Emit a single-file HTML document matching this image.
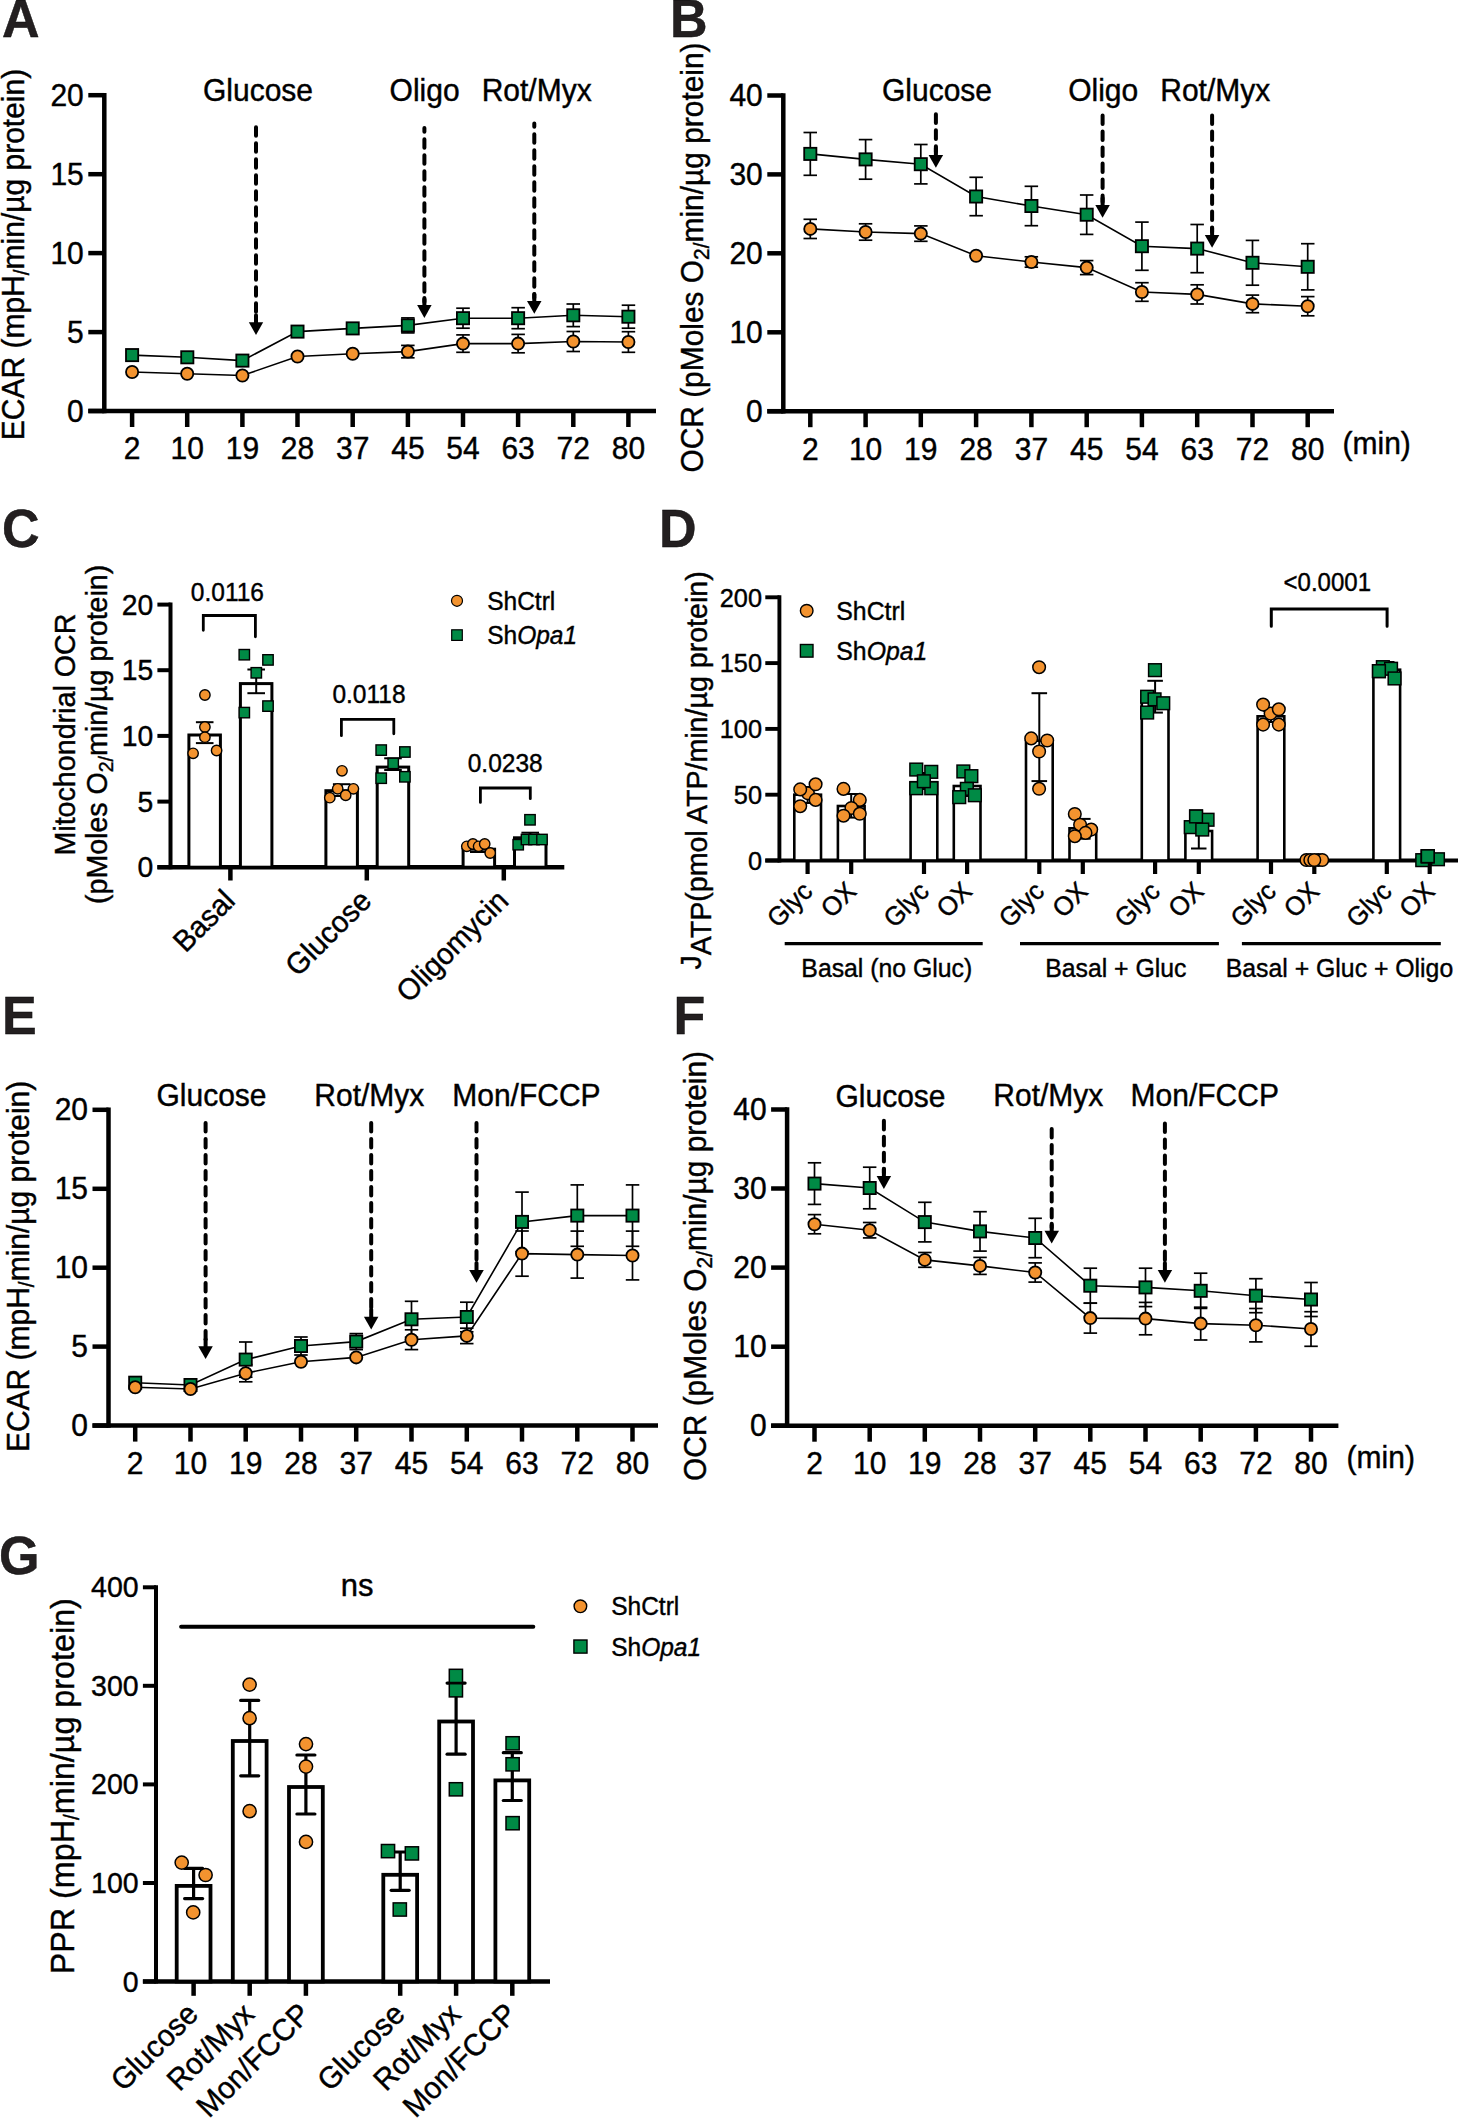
<!DOCTYPE html>
<html><head><meta charset="utf-8"><style>
html,body{margin:0;padding:0;background:#fff;}
svg{display:block;font-family:"Liberation Sans",sans-serif;}
text{stroke:#000;stroke-width:0.4px;}
</style></head><body>
<svg width="1460" height="2118" viewBox="0 0 1460 2118">
<rect width="1460" height="2118" fill="#fff"/>
<g>
<line x1="104.3" y1="93" x2="104.3" y2="413.2" stroke="#000" stroke-width="4.5" stroke-linecap="butt"/>
<line x1="88.3" y1="411" x2="656" y2="411" stroke="#000" stroke-width="4.5" stroke-linecap="butt"/>
<line x1="88.3" y1="411" x2="104.3" y2="411" stroke="#000" stroke-width="4.5" stroke-linecap="butt"/>
<text x="83.8" y="421.6" font-size="30" text-anchor="end" transform="translate(0 421.6) scale(1 1.04) translate(0 -421.6)">0</text>
<line x1="88.3" y1="332.1" x2="104.3" y2="332.1" stroke="#000" stroke-width="4.5" stroke-linecap="butt"/>
<text x="83.8" y="342.7" font-size="30" text-anchor="end" transform="translate(0 342.7) scale(1 1.04) translate(0 -342.7)">5</text>
<line x1="88.3" y1="253.1" x2="104.3" y2="253.1" stroke="#000" stroke-width="4.5" stroke-linecap="butt"/>
<text x="83.8" y="263.7" font-size="30" text-anchor="end" transform="translate(0 263.7) scale(1 1.04) translate(0 -263.7)">10</text>
<line x1="88.3" y1="174.2" x2="104.3" y2="174.2" stroke="#000" stroke-width="4.5" stroke-linecap="butt"/>
<text x="83.8" y="184.8" font-size="30" text-anchor="end" transform="translate(0 184.8) scale(1 1.04) translate(0 -184.8)">15</text>
<line x1="88.3" y1="95.2" x2="104.3" y2="95.2" stroke="#000" stroke-width="4.5" stroke-linecap="butt"/>
<text x="83.8" y="105.8" font-size="30" text-anchor="end" transform="translate(0 105.8) scale(1 1.04) translate(0 -105.8)">20</text>
<line x1="132.1" y1="411" x2="132.1" y2="427" stroke="#000" stroke-width="4.5" stroke-linecap="butt"/>
<text x="132.1" y="459.5" font-size="30" text-anchor="middle" transform="translate(0 459.5) scale(1 1.04) translate(0 -459.5)">2</text>
<line x1="187.2" y1="411" x2="187.2" y2="427" stroke="#000" stroke-width="4.5" stroke-linecap="butt"/>
<text x="187.2" y="459.5" font-size="30" text-anchor="middle" transform="translate(0 459.5) scale(1 1.04) translate(0 -459.5)">10</text>
<line x1="242.4" y1="411" x2="242.4" y2="427" stroke="#000" stroke-width="4.5" stroke-linecap="butt"/>
<text x="242.4" y="459.5" font-size="30" text-anchor="middle" transform="translate(0 459.5) scale(1 1.04) translate(0 -459.5)">19</text>
<line x1="297.5" y1="411" x2="297.5" y2="427" stroke="#000" stroke-width="4.5" stroke-linecap="butt"/>
<text x="297.5" y="459.5" font-size="30" text-anchor="middle" transform="translate(0 459.5) scale(1 1.04) translate(0 -459.5)">28</text>
<line x1="352.7" y1="411" x2="352.7" y2="427" stroke="#000" stroke-width="4.5" stroke-linecap="butt"/>
<text x="352.7" y="459.5" font-size="30" text-anchor="middle" transform="translate(0 459.5) scale(1 1.04) translate(0 -459.5)">37</text>
<line x1="407.9" y1="411" x2="407.9" y2="427" stroke="#000" stroke-width="4.5" stroke-linecap="butt"/>
<text x="407.9" y="459.5" font-size="30" text-anchor="middle" transform="translate(0 459.5) scale(1 1.04) translate(0 -459.5)">45</text>
<line x1="463" y1="411" x2="463" y2="427" stroke="#000" stroke-width="4.5" stroke-linecap="butt"/>
<text x="463" y="459.5" font-size="30" text-anchor="middle" transform="translate(0 459.5) scale(1 1.04) translate(0 -459.5)">54</text>
<line x1="518.1" y1="411" x2="518.1" y2="427" stroke="#000" stroke-width="4.5" stroke-linecap="butt"/>
<text x="518.1" y="459.5" font-size="30" text-anchor="middle" transform="translate(0 459.5) scale(1 1.04) translate(0 -459.5)">63</text>
<line x1="573.3" y1="411" x2="573.3" y2="427" stroke="#000" stroke-width="4.5" stroke-linecap="butt"/>
<text x="573.3" y="459.5" font-size="30" text-anchor="middle" transform="translate(0 459.5) scale(1 1.04) translate(0 -459.5)">72</text>
<line x1="628.4" y1="411" x2="628.4" y2="427" stroke="#000" stroke-width="4.5" stroke-linecap="butt"/>
<text x="628.4" y="459.5" font-size="30" text-anchor="middle" transform="translate(0 459.5) scale(1 1.04) translate(0 -459.5)">80</text>
<text x="203" y="101.4" font-size="30" transform="translate(0 101.4) scale(1 1.04) translate(0 -101.4)">Glucose</text>
<line x1="256" y1="127.2" x2="256" y2="319.3" stroke="#000" stroke-width="4" stroke-linecap="round" stroke-dasharray="8.6 7.4" stroke-dashoffset="0"/>
<line x1="256" y1="315.3" x2="256" y2="323.3" stroke="#000" stroke-width="4" stroke-linecap="round"/>
<polygon points="248.8,322.3 263.2,322.3 256,335.1" fill="#000" stroke="none"/>
<text x="389.6" y="101.4" font-size="30" transform="translate(0 101.4) scale(1 1.04) translate(0 -101.4)">Oligo</text>
<line x1="424.4" y1="128" x2="424.4" y2="302.1" stroke="#000" stroke-width="4" stroke-linecap="round" stroke-dasharray="8.6 7.4" stroke-dashoffset="4.8"/>
<line x1="424.4" y1="298.1" x2="424.4" y2="306.1" stroke="#000" stroke-width="4" stroke-linecap="round"/>
<polygon points="417.1,305.1 431.6,305.1 424.4,317.9" fill="#000" stroke="none"/>
<text x="481.7" y="101.4" font-size="30" transform="translate(0 101.4) scale(1 1.04) translate(0 -101.4)">Rot/Myx</text>
<line x1="534.3" y1="123.4" x2="534.3" y2="297.9" stroke="#000" stroke-width="4" stroke-linecap="round" stroke-dasharray="8.6 7.4" stroke-dashoffset="5.2"/>
<line x1="534.3" y1="293.9" x2="534.3" y2="301.9" stroke="#000" stroke-width="4" stroke-linecap="round"/>
<polygon points="527,300.9 541.5,300.9 534.3,313.7" fill="#000" stroke="none"/>
<polyline points="132.1,355.1 187.2,357.3 242.4,360.6 297.5,331.6 352.7,328.4 407.9,325.4 463,318.2 518.1,318.2 573.3,315.3 628.4,316.7" fill="none" stroke="#000" stroke-width="1.6" stroke-linejoin="miter"/>
<polyline points="132.1,372 187.2,373.7 242.4,375.5 297.5,356.5 352.7,353.8 407.9,351.6 463,343.6 518.1,343.6 573.3,341.5 628.4,342" fill="none" stroke="#000" stroke-width="1.6" stroke-linejoin="miter"/>
<line x1="407.9" y1="317.9" x2="407.9" y2="332.9" stroke="#000" stroke-width="1.7" stroke-linecap="butt"/>
<line x1="401.1" y1="317.9" x2="414.6" y2="317.9" stroke="#000" stroke-width="1.7" stroke-linecap="butt"/>
<line x1="401.1" y1="332.9" x2="414.6" y2="332.9" stroke="#000" stroke-width="1.7" stroke-linecap="butt"/>
<line x1="463" y1="308.2" x2="463" y2="328.2" stroke="#000" stroke-width="1.7" stroke-linecap="butt"/>
<line x1="456.2" y1="308.2" x2="469.8" y2="308.2" stroke="#000" stroke-width="1.7" stroke-linecap="butt"/>
<line x1="456.2" y1="328.2" x2="469.8" y2="328.2" stroke="#000" stroke-width="1.7" stroke-linecap="butt"/>
<line x1="518.1" y1="307.7" x2="518.1" y2="328.7" stroke="#000" stroke-width="1.7" stroke-linecap="butt"/>
<line x1="511.4" y1="307.7" x2="524.9" y2="307.7" stroke="#000" stroke-width="1.7" stroke-linecap="butt"/>
<line x1="511.4" y1="328.7" x2="524.9" y2="328.7" stroke="#000" stroke-width="1.7" stroke-linecap="butt"/>
<line x1="573.3" y1="304" x2="573.3" y2="326.6" stroke="#000" stroke-width="1.7" stroke-linecap="butt"/>
<line x1="566.5" y1="304" x2="580" y2="304" stroke="#000" stroke-width="1.7" stroke-linecap="butt"/>
<line x1="566.5" y1="326.6" x2="580" y2="326.6" stroke="#000" stroke-width="1.7" stroke-linecap="butt"/>
<line x1="628.4" y1="305.2" x2="628.4" y2="328.2" stroke="#000" stroke-width="1.7" stroke-linecap="butt"/>
<line x1="621.7" y1="305.2" x2="635.2" y2="305.2" stroke="#000" stroke-width="1.7" stroke-linecap="butt"/>
<line x1="621.7" y1="328.2" x2="635.2" y2="328.2" stroke="#000" stroke-width="1.7" stroke-linecap="butt"/>
<line x1="407.9" y1="345.4" x2="407.9" y2="357.8" stroke="#000" stroke-width="1.7" stroke-linecap="butt"/>
<line x1="401.1" y1="345.4" x2="414.6" y2="345.4" stroke="#000" stroke-width="1.7" stroke-linecap="butt"/>
<line x1="401.1" y1="357.8" x2="414.6" y2="357.8" stroke="#000" stroke-width="1.7" stroke-linecap="butt"/>
<line x1="463" y1="334.9" x2="463" y2="352.3" stroke="#000" stroke-width="1.7" stroke-linecap="butt"/>
<line x1="456.2" y1="334.9" x2="469.8" y2="334.9" stroke="#000" stroke-width="1.7" stroke-linecap="butt"/>
<line x1="456.2" y1="352.3" x2="469.8" y2="352.3" stroke="#000" stroke-width="1.7" stroke-linecap="butt"/>
<line x1="518.1" y1="334.4" x2="518.1" y2="352.8" stroke="#000" stroke-width="1.7" stroke-linecap="butt"/>
<line x1="511.4" y1="334.4" x2="524.9" y2="334.4" stroke="#000" stroke-width="1.7" stroke-linecap="butt"/>
<line x1="511.4" y1="352.8" x2="524.9" y2="352.8" stroke="#000" stroke-width="1.7" stroke-linecap="butt"/>
<line x1="573.3" y1="331.5" x2="573.3" y2="351.5" stroke="#000" stroke-width="1.7" stroke-linecap="butt"/>
<line x1="566.5" y1="331.5" x2="580" y2="331.5" stroke="#000" stroke-width="1.7" stroke-linecap="butt"/>
<line x1="566.5" y1="351.5" x2="580" y2="351.5" stroke="#000" stroke-width="1.7" stroke-linecap="butt"/>
<line x1="628.4" y1="331.7" x2="628.4" y2="352.3" stroke="#000" stroke-width="1.7" stroke-linecap="butt"/>
<line x1="621.7" y1="331.7" x2="635.2" y2="331.7" stroke="#000" stroke-width="1.7" stroke-linecap="butt"/>
<line x1="621.7" y1="352.3" x2="635.2" y2="352.3" stroke="#000" stroke-width="1.7" stroke-linecap="butt"/>
<rect x="126" y="349" width="12.2" height="12.2" fill="#008a45" stroke="#000" stroke-width="1.8"/>
<rect x="181.2" y="351.2" width="12.2" height="12.2" fill="#008a45" stroke="#000" stroke-width="1.8"/>
<rect x="236.3" y="354.5" width="12.2" height="12.2" fill="#008a45" stroke="#000" stroke-width="1.8"/>
<rect x="291.4" y="325.5" width="12.2" height="12.2" fill="#008a45" stroke="#000" stroke-width="1.8"/>
<rect x="346.6" y="322.3" width="12.2" height="12.2" fill="#008a45" stroke="#000" stroke-width="1.8"/>
<rect x="401.8" y="319.3" width="12.2" height="12.2" fill="#008a45" stroke="#000" stroke-width="1.8"/>
<rect x="456.9" y="312.1" width="12.2" height="12.2" fill="#008a45" stroke="#000" stroke-width="1.8"/>
<rect x="512" y="312.1" width="12.2" height="12.2" fill="#008a45" stroke="#000" stroke-width="1.8"/>
<rect x="567.2" y="309.2" width="12.2" height="12.2" fill="#008a45" stroke="#000" stroke-width="1.8"/>
<rect x="622.3" y="310.6" width="12.2" height="12.2" fill="#008a45" stroke="#000" stroke-width="1.8"/>
<circle cx="132.1" cy="372" r="6.1" fill="#f3932f" stroke="#000" stroke-width="1.8"/>
<circle cx="187.2" cy="373.7" r="6.1" fill="#f3932f" stroke="#000" stroke-width="1.8"/>
<circle cx="242.4" cy="375.5" r="6.1" fill="#f3932f" stroke="#000" stroke-width="1.8"/>
<circle cx="297.5" cy="356.5" r="6.1" fill="#f3932f" stroke="#000" stroke-width="1.8"/>
<circle cx="352.7" cy="353.8" r="6.1" fill="#f3932f" stroke="#000" stroke-width="1.8"/>
<circle cx="407.9" cy="351.6" r="6.1" fill="#f3932f" stroke="#000" stroke-width="1.8"/>
<circle cx="463" cy="343.6" r="6.1" fill="#f3932f" stroke="#000" stroke-width="1.8"/>
<circle cx="518.1" cy="343.6" r="6.1" fill="#f3932f" stroke="#000" stroke-width="1.8"/>
<circle cx="573.3" cy="341.5" r="6.1" fill="#f3932f" stroke="#000" stroke-width="1.8"/>
<circle cx="628.4" cy="342" r="6.1" fill="#f3932f" stroke="#000" stroke-width="1.8"/>
<text x="24.3" y="254.5" font-size="30" text-anchor="middle" transform="rotate(-90 24.3 254.5) translate(24.3 254.5) scale(1 1.04) translate(-24.3 -254.5)">ECAR (mpH<tspan font-size="21" dy="5">/</tspan><tspan dy="-5">min/µg protein)</tspan></text>
<line x1="783.3" y1="93.2" x2="783.3" y2="413.4" stroke="#000" stroke-width="4.5" stroke-linecap="butt"/>
<line x1="767.3" y1="411.2" x2="1334" y2="411.2" stroke="#000" stroke-width="4.5" stroke-linecap="butt"/>
<line x1="767.3" y1="411.2" x2="783.3" y2="411.2" stroke="#000" stroke-width="4.5" stroke-linecap="butt"/>
<text x="762.8" y="421.8" font-size="30" text-anchor="end" transform="translate(0 421.8) scale(1 1.04) translate(0 -421.8)">0</text>
<line x1="767.3" y1="332.3" x2="783.3" y2="332.3" stroke="#000" stroke-width="4.5" stroke-linecap="butt"/>
<text x="762.8" y="342.9" font-size="30" text-anchor="end" transform="translate(0 342.9) scale(1 1.04) translate(0 -342.9)">10</text>
<line x1="767.3" y1="253.3" x2="783.3" y2="253.3" stroke="#000" stroke-width="4.5" stroke-linecap="butt"/>
<text x="762.8" y="263.9" font-size="30" text-anchor="end" transform="translate(0 263.9) scale(1 1.04) translate(0 -263.9)">20</text>
<line x1="767.3" y1="174.4" x2="783.3" y2="174.4" stroke="#000" stroke-width="4.5" stroke-linecap="butt"/>
<text x="762.8" y="185" font-size="30" text-anchor="end" transform="translate(0 185) scale(1 1.04) translate(0 -185)">30</text>
<line x1="767.3" y1="95.5" x2="783.3" y2="95.5" stroke="#000" stroke-width="4.5" stroke-linecap="butt"/>
<text x="762.8" y="106.1" font-size="30" text-anchor="end" transform="translate(0 106.1) scale(1 1.04) translate(0 -106.1)">40</text>
<line x1="810.3" y1="411.2" x2="810.3" y2="427.2" stroke="#000" stroke-width="4.5" stroke-linecap="butt"/>
<text x="810.3" y="459.7" font-size="30" text-anchor="middle" transform="translate(0 459.7) scale(1 1.04) translate(0 -459.7)">2</text>
<line x1="865.6" y1="411.2" x2="865.6" y2="427.2" stroke="#000" stroke-width="4.5" stroke-linecap="butt"/>
<text x="865.6" y="459.7" font-size="30" text-anchor="middle" transform="translate(0 459.7) scale(1 1.04) translate(0 -459.7)">10</text>
<line x1="920.8" y1="411.2" x2="920.8" y2="427.2" stroke="#000" stroke-width="4.5" stroke-linecap="butt"/>
<text x="920.8" y="459.7" font-size="30" text-anchor="middle" transform="translate(0 459.7) scale(1 1.04) translate(0 -459.7)">19</text>
<line x1="976.1" y1="411.2" x2="976.1" y2="427.2" stroke="#000" stroke-width="4.5" stroke-linecap="butt"/>
<text x="976.1" y="459.7" font-size="30" text-anchor="middle" transform="translate(0 459.7) scale(1 1.04) translate(0 -459.7)">28</text>
<line x1="1031.4" y1="411.2" x2="1031.4" y2="427.2" stroke="#000" stroke-width="4.5" stroke-linecap="butt"/>
<text x="1031.4" y="459.7" font-size="30" text-anchor="middle" transform="translate(0 459.7) scale(1 1.04) translate(0 -459.7)">37</text>
<line x1="1086.7" y1="411.2" x2="1086.7" y2="427.2" stroke="#000" stroke-width="4.5" stroke-linecap="butt"/>
<text x="1086.7" y="459.7" font-size="30" text-anchor="middle" transform="translate(0 459.7) scale(1 1.04) translate(0 -459.7)">45</text>
<line x1="1141.9" y1="411.2" x2="1141.9" y2="427.2" stroke="#000" stroke-width="4.5" stroke-linecap="butt"/>
<text x="1141.9" y="459.7" font-size="30" text-anchor="middle" transform="translate(0 459.7) scale(1 1.04) translate(0 -459.7)">54</text>
<line x1="1197.2" y1="411.2" x2="1197.2" y2="427.2" stroke="#000" stroke-width="4.5" stroke-linecap="butt"/>
<text x="1197.2" y="459.7" font-size="30" text-anchor="middle" transform="translate(0 459.7) scale(1 1.04) translate(0 -459.7)">63</text>
<line x1="1252.5" y1="411.2" x2="1252.5" y2="427.2" stroke="#000" stroke-width="4.5" stroke-linecap="butt"/>
<text x="1252.5" y="459.7" font-size="30" text-anchor="middle" transform="translate(0 459.7) scale(1 1.04) translate(0 -459.7)">72</text>
<line x1="1307.7" y1="411.2" x2="1307.7" y2="427.2" stroke="#000" stroke-width="4.5" stroke-linecap="butt"/>
<text x="1307.7" y="459.7" font-size="30" text-anchor="middle" transform="translate(0 459.7) scale(1 1.04) translate(0 -459.7)">80</text>
<text x="1342.5" y="454" font-size="30" transform="translate(0 454) scale(1 1.04) translate(0 -454)">(min)</text>
<text x="882" y="101.4" font-size="30" transform="translate(0 101.4) scale(1 1.04) translate(0 -101.4)">Glucose</text>
<line x1="935.9" y1="114.3" x2="935.9" y2="151.9" stroke="#000" stroke-width="4" stroke-linecap="round" stroke-dasharray="8.6 7.4" stroke-dashoffset="0"/>
<line x1="935.9" y1="147.9" x2="935.9" y2="155.9" stroke="#000" stroke-width="4" stroke-linecap="round"/>
<polygon points="928.6,154.9 943.1,154.9 935.9,167.7" fill="#000" stroke="none"/>
<text x="1068.2" y="101.4" font-size="30" transform="translate(0 101.4) scale(1 1.04) translate(0 -101.4)">Oligo</text>
<line x1="1102.6" y1="115.4" x2="1102.6" y2="201.9" stroke="#000" stroke-width="4" stroke-linecap="round" stroke-dasharray="8.6 7.4" stroke-dashoffset="0"/>
<line x1="1102.6" y1="197.9" x2="1102.6" y2="205.9" stroke="#000" stroke-width="4" stroke-linecap="round"/>
<polygon points="1095.3,204.9 1109.8,204.9 1102.6,217.7" fill="#000" stroke="none"/>
<text x="1160.3" y="101.4" font-size="30" transform="translate(0 101.4) scale(1 1.04) translate(0 -101.4)">Rot/Myx</text>
<line x1="1212.1" y1="115.4" x2="1212.1" y2="231.9" stroke="#000" stroke-width="4" stroke-linecap="round" stroke-dasharray="8.6 7.4" stroke-dashoffset="0"/>
<line x1="1212.1" y1="227.9" x2="1212.1" y2="235.9" stroke="#000" stroke-width="4" stroke-linecap="round"/>
<polygon points="1204.8,234.9 1219.3,234.9 1212.1,247.7" fill="#000" stroke="none"/>
<polyline points="810.3,153.9 865.6,159.4 920.8,164.2 976.1,196.5 1031.4,206 1086.7,214.7 1141.9,246.2 1197.2,248.6 1252.5,262.8 1307.7,266.8" fill="none" stroke="#000" stroke-width="1.6" stroke-linejoin="miter"/>
<polyline points="810.3,228.9 865.6,232 920.8,233.6 976.1,255.7 1031.4,262 1086.7,267.6 1141.9,292 1197.2,294.4 1252.5,303.9 1307.7,306.2" fill="none" stroke="#000" stroke-width="1.6" stroke-linejoin="miter"/>
<line x1="810.3" y1="132.5" x2="810.3" y2="175.3" stroke="#000" stroke-width="1.7" stroke-linecap="butt"/>
<line x1="803.5" y1="132.5" x2="817" y2="132.5" stroke="#000" stroke-width="1.7" stroke-linecap="butt"/>
<line x1="803.5" y1="175.3" x2="817" y2="175.3" stroke="#000" stroke-width="1.7" stroke-linecap="butt"/>
<line x1="865.6" y1="139.6" x2="865.6" y2="179.2" stroke="#000" stroke-width="1.7" stroke-linecap="butt"/>
<line x1="858.8" y1="139.6" x2="872.3" y2="139.6" stroke="#000" stroke-width="1.7" stroke-linecap="butt"/>
<line x1="858.8" y1="179.2" x2="872.3" y2="179.2" stroke="#000" stroke-width="1.7" stroke-linecap="butt"/>
<line x1="920.8" y1="144.5" x2="920.8" y2="183.9" stroke="#000" stroke-width="1.7" stroke-linecap="butt"/>
<line x1="914.1" y1="144.5" x2="927.6" y2="144.5" stroke="#000" stroke-width="1.7" stroke-linecap="butt"/>
<line x1="914.1" y1="183.9" x2="927.6" y2="183.9" stroke="#000" stroke-width="1.7" stroke-linecap="butt"/>
<line x1="976.1" y1="177.3" x2="976.1" y2="215.7" stroke="#000" stroke-width="1.7" stroke-linecap="butt"/>
<line x1="969.4" y1="177.3" x2="982.9" y2="177.3" stroke="#000" stroke-width="1.7" stroke-linecap="butt"/>
<line x1="969.4" y1="215.7" x2="982.9" y2="215.7" stroke="#000" stroke-width="1.7" stroke-linecap="butt"/>
<line x1="1031.4" y1="186.3" x2="1031.4" y2="225.7" stroke="#000" stroke-width="1.7" stroke-linecap="butt"/>
<line x1="1024.6" y1="186.3" x2="1038.1" y2="186.3" stroke="#000" stroke-width="1.7" stroke-linecap="butt"/>
<line x1="1024.6" y1="225.7" x2="1038.1" y2="225.7" stroke="#000" stroke-width="1.7" stroke-linecap="butt"/>
<line x1="1086.7" y1="195" x2="1086.7" y2="234.4" stroke="#000" stroke-width="1.7" stroke-linecap="butt"/>
<line x1="1079.9" y1="195" x2="1093.4" y2="195" stroke="#000" stroke-width="1.7" stroke-linecap="butt"/>
<line x1="1079.9" y1="234.4" x2="1093.4" y2="234.4" stroke="#000" stroke-width="1.7" stroke-linecap="butt"/>
<line x1="1141.9" y1="222.1" x2="1141.9" y2="270.3" stroke="#000" stroke-width="1.7" stroke-linecap="butt"/>
<line x1="1135.2" y1="222.1" x2="1148.7" y2="222.1" stroke="#000" stroke-width="1.7" stroke-linecap="butt"/>
<line x1="1135.2" y1="270.3" x2="1148.7" y2="270.3" stroke="#000" stroke-width="1.7" stroke-linecap="butt"/>
<line x1="1197.2" y1="224.5" x2="1197.2" y2="272.7" stroke="#000" stroke-width="1.7" stroke-linecap="butt"/>
<line x1="1190.4" y1="224.5" x2="1203.9" y2="224.5" stroke="#000" stroke-width="1.7" stroke-linecap="butt"/>
<line x1="1190.4" y1="272.7" x2="1203.9" y2="272.7" stroke="#000" stroke-width="1.7" stroke-linecap="butt"/>
<line x1="1252.5" y1="240.4" x2="1252.5" y2="285.2" stroke="#000" stroke-width="1.7" stroke-linecap="butt"/>
<line x1="1245.7" y1="240.4" x2="1259.2" y2="240.4" stroke="#000" stroke-width="1.7" stroke-linecap="butt"/>
<line x1="1245.7" y1="285.2" x2="1259.2" y2="285.2" stroke="#000" stroke-width="1.7" stroke-linecap="butt"/>
<line x1="1307.7" y1="243.7" x2="1307.7" y2="289.9" stroke="#000" stroke-width="1.7" stroke-linecap="butt"/>
<line x1="1301" y1="243.7" x2="1314.5" y2="243.7" stroke="#000" stroke-width="1.7" stroke-linecap="butt"/>
<line x1="1301" y1="289.9" x2="1314.5" y2="289.9" stroke="#000" stroke-width="1.7" stroke-linecap="butt"/>
<line x1="810.3" y1="219.3" x2="810.3" y2="238.5" stroke="#000" stroke-width="1.7" stroke-linecap="butt"/>
<line x1="803.5" y1="219.3" x2="817" y2="219.3" stroke="#000" stroke-width="1.7" stroke-linecap="butt"/>
<line x1="803.5" y1="238.5" x2="817" y2="238.5" stroke="#000" stroke-width="1.7" stroke-linecap="butt"/>
<line x1="865.6" y1="223.8" x2="865.6" y2="240.2" stroke="#000" stroke-width="1.7" stroke-linecap="butt"/>
<line x1="858.8" y1="223.8" x2="872.3" y2="223.8" stroke="#000" stroke-width="1.7" stroke-linecap="butt"/>
<line x1="858.8" y1="240.2" x2="872.3" y2="240.2" stroke="#000" stroke-width="1.7" stroke-linecap="butt"/>
<line x1="920.8" y1="225.9" x2="920.8" y2="241.3" stroke="#000" stroke-width="1.7" stroke-linecap="butt"/>
<line x1="914.1" y1="225.9" x2="927.6" y2="225.9" stroke="#000" stroke-width="1.7" stroke-linecap="butt"/>
<line x1="914.1" y1="241.3" x2="927.6" y2="241.3" stroke="#000" stroke-width="1.7" stroke-linecap="butt"/>
<line x1="1031.4" y1="256.8" x2="1031.4" y2="267.2" stroke="#000" stroke-width="1.7" stroke-linecap="butt"/>
<line x1="1024.6" y1="256.8" x2="1038.1" y2="256.8" stroke="#000" stroke-width="1.7" stroke-linecap="butt"/>
<line x1="1024.6" y1="267.2" x2="1038.1" y2="267.2" stroke="#000" stroke-width="1.7" stroke-linecap="butt"/>
<line x1="1086.7" y1="260.6" x2="1086.7" y2="274.6" stroke="#000" stroke-width="1.7" stroke-linecap="butt"/>
<line x1="1079.9" y1="260.6" x2="1093.4" y2="260.6" stroke="#000" stroke-width="1.7" stroke-linecap="butt"/>
<line x1="1079.9" y1="274.6" x2="1093.4" y2="274.6" stroke="#000" stroke-width="1.7" stroke-linecap="butt"/>
<line x1="1141.9" y1="282.7" x2="1141.9" y2="301.3" stroke="#000" stroke-width="1.7" stroke-linecap="butt"/>
<line x1="1135.2" y1="282.7" x2="1148.7" y2="282.7" stroke="#000" stroke-width="1.7" stroke-linecap="butt"/>
<line x1="1135.2" y1="301.3" x2="1148.7" y2="301.3" stroke="#000" stroke-width="1.7" stroke-linecap="butt"/>
<line x1="1197.2" y1="284.8" x2="1197.2" y2="304" stroke="#000" stroke-width="1.7" stroke-linecap="butt"/>
<line x1="1190.4" y1="284.8" x2="1203.9" y2="284.8" stroke="#000" stroke-width="1.7" stroke-linecap="butt"/>
<line x1="1190.4" y1="304" x2="1203.9" y2="304" stroke="#000" stroke-width="1.7" stroke-linecap="butt"/>
<line x1="1252.5" y1="295.1" x2="1252.5" y2="312.7" stroke="#000" stroke-width="1.7" stroke-linecap="butt"/>
<line x1="1245.7" y1="295.1" x2="1259.2" y2="295.1" stroke="#000" stroke-width="1.7" stroke-linecap="butt"/>
<line x1="1245.7" y1="312.7" x2="1259.2" y2="312.7" stroke="#000" stroke-width="1.7" stroke-linecap="butt"/>
<line x1="1307.7" y1="296.6" x2="1307.7" y2="315.8" stroke="#000" stroke-width="1.7" stroke-linecap="butt"/>
<line x1="1301" y1="296.6" x2="1314.5" y2="296.6" stroke="#000" stroke-width="1.7" stroke-linecap="butt"/>
<line x1="1301" y1="315.8" x2="1314.5" y2="315.8" stroke="#000" stroke-width="1.7" stroke-linecap="butt"/>
<rect x="804.2" y="147.8" width="12.2" height="12.2" fill="#008a45" stroke="#000" stroke-width="1.8"/>
<rect x="859.5" y="153.3" width="12.2" height="12.2" fill="#008a45" stroke="#000" stroke-width="1.8"/>
<rect x="914.7" y="158.1" width="12.2" height="12.2" fill="#008a45" stroke="#000" stroke-width="1.8"/>
<rect x="970" y="190.4" width="12.2" height="12.2" fill="#008a45" stroke="#000" stroke-width="1.8"/>
<rect x="1025.3" y="199.9" width="12.2" height="12.2" fill="#008a45" stroke="#000" stroke-width="1.8"/>
<rect x="1080.6" y="208.6" width="12.2" height="12.2" fill="#008a45" stroke="#000" stroke-width="1.8"/>
<rect x="1135.8" y="240.1" width="12.2" height="12.2" fill="#008a45" stroke="#000" stroke-width="1.8"/>
<rect x="1191.1" y="242.5" width="12.2" height="12.2" fill="#008a45" stroke="#000" stroke-width="1.8"/>
<rect x="1246.4" y="256.7" width="12.2" height="12.2" fill="#008a45" stroke="#000" stroke-width="1.8"/>
<rect x="1301.6" y="260.7" width="12.2" height="12.2" fill="#008a45" stroke="#000" stroke-width="1.8"/>
<circle cx="810.3" cy="228.9" r="6.1" fill="#f3932f" stroke="#000" stroke-width="1.8"/>
<circle cx="865.6" cy="232" r="6.1" fill="#f3932f" stroke="#000" stroke-width="1.8"/>
<circle cx="920.8" cy="233.6" r="6.1" fill="#f3932f" stroke="#000" stroke-width="1.8"/>
<circle cx="976.1" cy="255.7" r="6.1" fill="#f3932f" stroke="#000" stroke-width="1.8"/>
<circle cx="1031.4" cy="262" r="6.1" fill="#f3932f" stroke="#000" stroke-width="1.8"/>
<circle cx="1086.7" cy="267.6" r="6.1" fill="#f3932f" stroke="#000" stroke-width="1.8"/>
<circle cx="1141.9" cy="292" r="6.1" fill="#f3932f" stroke="#000" stroke-width="1.8"/>
<circle cx="1197.2" cy="294.4" r="6.1" fill="#f3932f" stroke="#000" stroke-width="1.8"/>
<circle cx="1252.5" cy="303.9" r="6.1" fill="#f3932f" stroke="#000" stroke-width="1.8"/>
<circle cx="1307.7" cy="306.2" r="6.1" fill="#f3932f" stroke="#000" stroke-width="1.8"/>
<text x="703" y="257.5" font-size="29.9" text-anchor="middle" transform="rotate(-90 703 257.5) translate(703 257.5) scale(1 1.04) translate(-703 -257.5)">OCR (pMoles O<tspan font-size="21" dy="6">2/</tspan><tspan dy="-6">min/µg protein)</tspan></text>
<line x1="108.5" y1="1107.5" x2="108.5" y2="1427.8" stroke="#000" stroke-width="4.5" stroke-linecap="butt"/>
<line x1="92.5" y1="1425.6" x2="658" y2="1425.6" stroke="#000" stroke-width="4.5" stroke-linecap="butt"/>
<line x1="92.5" y1="1425.6" x2="108.5" y2="1425.6" stroke="#000" stroke-width="4.5" stroke-linecap="butt"/>
<text x="88" y="1436.2" font-size="30" text-anchor="end" transform="translate(0 1436.2) scale(1 1.04) translate(0 -1436.2)">0</text>
<line x1="92.5" y1="1346.6" x2="108.5" y2="1346.6" stroke="#000" stroke-width="4.5" stroke-linecap="butt"/>
<text x="88" y="1357.2" font-size="30" text-anchor="end" transform="translate(0 1357.2) scale(1 1.04) translate(0 -1357.2)">5</text>
<line x1="92.5" y1="1267.7" x2="108.5" y2="1267.7" stroke="#000" stroke-width="4.5" stroke-linecap="butt"/>
<text x="88" y="1278.3" font-size="30" text-anchor="end" transform="translate(0 1278.3) scale(1 1.04) translate(0 -1278.3)">10</text>
<line x1="92.5" y1="1188.8" x2="108.5" y2="1188.8" stroke="#000" stroke-width="4.5" stroke-linecap="butt"/>
<text x="88" y="1199.3" font-size="30" text-anchor="end" transform="translate(0 1199.3) scale(1 1.04) translate(0 -1199.3)">15</text>
<line x1="92.5" y1="1109.8" x2="108.5" y2="1109.8" stroke="#000" stroke-width="4.5" stroke-linecap="butt"/>
<text x="88" y="1120.4" font-size="30" text-anchor="end" transform="translate(0 1120.4) scale(1 1.04) translate(0 -1120.4)">20</text>
<line x1="135.2" y1="1425.6" x2="135.2" y2="1441.6" stroke="#000" stroke-width="4.5" stroke-linecap="butt"/>
<text x="135.2" y="1474.1" font-size="30" text-anchor="middle" transform="translate(0 1474.1) scale(1 1.04) translate(0 -1474.1)">2</text>
<line x1="190.5" y1="1425.6" x2="190.5" y2="1441.6" stroke="#000" stroke-width="4.5" stroke-linecap="butt"/>
<text x="190.5" y="1474.1" font-size="30" text-anchor="middle" transform="translate(0 1474.1) scale(1 1.04) translate(0 -1474.1)">10</text>
<line x1="245.7" y1="1425.6" x2="245.7" y2="1441.6" stroke="#000" stroke-width="4.5" stroke-linecap="butt"/>
<text x="245.7" y="1474.1" font-size="30" text-anchor="middle" transform="translate(0 1474.1) scale(1 1.04) translate(0 -1474.1)">19</text>
<line x1="301" y1="1425.6" x2="301" y2="1441.6" stroke="#000" stroke-width="4.5" stroke-linecap="butt"/>
<text x="301" y="1474.1" font-size="30" text-anchor="middle" transform="translate(0 1474.1) scale(1 1.04) translate(0 -1474.1)">28</text>
<line x1="356.2" y1="1425.6" x2="356.2" y2="1441.6" stroke="#000" stroke-width="4.5" stroke-linecap="butt"/>
<text x="356.2" y="1474.1" font-size="30" text-anchor="middle" transform="translate(0 1474.1) scale(1 1.04) translate(0 -1474.1)">37</text>
<line x1="411.5" y1="1425.6" x2="411.5" y2="1441.6" stroke="#000" stroke-width="4.5" stroke-linecap="butt"/>
<text x="411.5" y="1474.1" font-size="30" text-anchor="middle" transform="translate(0 1474.1) scale(1 1.04) translate(0 -1474.1)">45</text>
<line x1="466.8" y1="1425.6" x2="466.8" y2="1441.6" stroke="#000" stroke-width="4.5" stroke-linecap="butt"/>
<text x="466.8" y="1474.1" font-size="30" text-anchor="middle" transform="translate(0 1474.1) scale(1 1.04) translate(0 -1474.1)">54</text>
<line x1="522" y1="1425.6" x2="522" y2="1441.6" stroke="#000" stroke-width="4.5" stroke-linecap="butt"/>
<text x="522" y="1474.1" font-size="30" text-anchor="middle" transform="translate(0 1474.1) scale(1 1.04) translate(0 -1474.1)">63</text>
<line x1="577.3" y1="1425.6" x2="577.3" y2="1441.6" stroke="#000" stroke-width="4.5" stroke-linecap="butt"/>
<text x="577.3" y="1474.1" font-size="30" text-anchor="middle" transform="translate(0 1474.1) scale(1 1.04) translate(0 -1474.1)">72</text>
<line x1="632.5" y1="1425.6" x2="632.5" y2="1441.6" stroke="#000" stroke-width="4.5" stroke-linecap="butt"/>
<text x="632.5" y="1474.1" font-size="30" text-anchor="middle" transform="translate(0 1474.1) scale(1 1.04) translate(0 -1474.1)">80</text>
<text x="156.5" y="1106.5" font-size="30" transform="translate(0 1106.5) scale(1 1.04) translate(0 -1106.5)">Glucose</text>
<line x1="205.6" y1="1123" x2="205.6" y2="1343.2" stroke="#000" stroke-width="4" stroke-linecap="round" stroke-dasharray="8.6 7.4" stroke-dashoffset="0"/>
<line x1="205.6" y1="1339.2" x2="205.6" y2="1347.2" stroke="#000" stroke-width="4" stroke-linecap="round"/>
<polygon points="198.3,1346.2 212.8,1346.2 205.6,1359" fill="#000" stroke="none"/>
<text x="314.3" y="1105.6" font-size="30" transform="translate(0 1105.6) scale(1 1.04) translate(0 -1105.6)">Rot/Myx</text>
<line x1="371.2" y1="1123" x2="371.2" y2="1313.8" stroke="#000" stroke-width="4" stroke-linecap="round" stroke-dasharray="8.6 7.4" stroke-dashoffset="0"/>
<line x1="371.2" y1="1309.8" x2="371.2" y2="1317.8" stroke="#000" stroke-width="4" stroke-linecap="round"/>
<polygon points="363.9,1316.8 378.4,1316.8 371.2,1329.6" fill="#000" stroke="none"/>
<text x="452.3" y="1105.6" font-size="30" transform="translate(0 1105.6) scale(1 1.04) translate(0 -1105.6)">Mon/FCCP</text>
<line x1="476.5" y1="1123" x2="476.5" y2="1266.9" stroke="#000" stroke-width="4" stroke-linecap="round" stroke-dasharray="8.6 7.4" stroke-dashoffset="0"/>
<line x1="476.5" y1="1262.9" x2="476.5" y2="1270.9" stroke="#000" stroke-width="4" stroke-linecap="round"/>
<polygon points="469.2,1269.9 483.8,1269.9 476.5,1282.7" fill="#000" stroke="none"/>
<polyline points="135.2,1382.7 190.5,1385 245.7,1359.6 301,1346 356.2,1341.6 411.5,1319.3 466.8,1317 522,1221.9 577.3,1215.6 632.5,1215.6" fill="none" stroke="#000" stroke-width="1.6" stroke-linejoin="miter"/>
<polyline points="135.2,1387.2 190.5,1389 245.7,1373.2 301,1361.8 356.2,1357.4 411.5,1339.7 466.8,1335.9 522,1253.6 577.3,1254.6 632.5,1255.5" fill="none" stroke="#000" stroke-width="1.6" stroke-linejoin="miter"/>
<line x1="245.7" y1="1342" x2="245.7" y2="1377.2" stroke="#000" stroke-width="1.7" stroke-linecap="butt"/>
<line x1="239" y1="1342" x2="252.5" y2="1342" stroke="#000" stroke-width="1.7" stroke-linecap="butt"/>
<line x1="239" y1="1377.2" x2="252.5" y2="1377.2" stroke="#000" stroke-width="1.7" stroke-linecap="butt"/>
<line x1="301" y1="1337" x2="301" y2="1355" stroke="#000" stroke-width="1.7" stroke-linecap="butt"/>
<line x1="294.2" y1="1337" x2="307.7" y2="1337" stroke="#000" stroke-width="1.7" stroke-linecap="butt"/>
<line x1="294.2" y1="1355" x2="307.7" y2="1355" stroke="#000" stroke-width="1.7" stroke-linecap="butt"/>
<line x1="356.2" y1="1333.6" x2="356.2" y2="1349.6" stroke="#000" stroke-width="1.7" stroke-linecap="butt"/>
<line x1="349.5" y1="1333.6" x2="363" y2="1333.6" stroke="#000" stroke-width="1.7" stroke-linecap="butt"/>
<line x1="349.5" y1="1349.6" x2="363" y2="1349.6" stroke="#000" stroke-width="1.7" stroke-linecap="butt"/>
<line x1="411.5" y1="1301.3" x2="411.5" y2="1337.3" stroke="#000" stroke-width="1.7" stroke-linecap="butt"/>
<line x1="404.8" y1="1301.3" x2="418.2" y2="1301.3" stroke="#000" stroke-width="1.7" stroke-linecap="butt"/>
<line x1="404.8" y1="1337.3" x2="418.2" y2="1337.3" stroke="#000" stroke-width="1.7" stroke-linecap="butt"/>
<line x1="466.8" y1="1302.2" x2="466.8" y2="1331.8" stroke="#000" stroke-width="1.7" stroke-linecap="butt"/>
<line x1="460" y1="1302.2" x2="473.5" y2="1302.2" stroke="#000" stroke-width="1.7" stroke-linecap="butt"/>
<line x1="460" y1="1331.8" x2="473.5" y2="1331.8" stroke="#000" stroke-width="1.7" stroke-linecap="butt"/>
<line x1="522" y1="1192.1" x2="522" y2="1251.7" stroke="#000" stroke-width="1.7" stroke-linecap="butt"/>
<line x1="515.3" y1="1192.1" x2="528.8" y2="1192.1" stroke="#000" stroke-width="1.7" stroke-linecap="butt"/>
<line x1="515.3" y1="1251.7" x2="528.8" y2="1251.7" stroke="#000" stroke-width="1.7" stroke-linecap="butt"/>
<line x1="577.3" y1="1184.9" x2="577.3" y2="1246.3" stroke="#000" stroke-width="1.7" stroke-linecap="butt"/>
<line x1="570.5" y1="1184.9" x2="584" y2="1184.9" stroke="#000" stroke-width="1.7" stroke-linecap="butt"/>
<line x1="570.5" y1="1246.3" x2="584" y2="1246.3" stroke="#000" stroke-width="1.7" stroke-linecap="butt"/>
<line x1="632.5" y1="1184.9" x2="632.5" y2="1246.3" stroke="#000" stroke-width="1.7" stroke-linecap="butt"/>
<line x1="625.8" y1="1184.9" x2="639.3" y2="1184.9" stroke="#000" stroke-width="1.7" stroke-linecap="butt"/>
<line x1="625.8" y1="1246.3" x2="639.3" y2="1246.3" stroke="#000" stroke-width="1.7" stroke-linecap="butt"/>
<line x1="245.7" y1="1364.6" x2="245.7" y2="1381.8" stroke="#000" stroke-width="1.7" stroke-linecap="butt"/>
<line x1="239" y1="1364.6" x2="252.5" y2="1364.6" stroke="#000" stroke-width="1.7" stroke-linecap="butt"/>
<line x1="239" y1="1381.8" x2="252.5" y2="1381.8" stroke="#000" stroke-width="1.7" stroke-linecap="butt"/>
<line x1="411.5" y1="1329.8" x2="411.5" y2="1349.6" stroke="#000" stroke-width="1.7" stroke-linecap="butt"/>
<line x1="404.8" y1="1329.8" x2="418.2" y2="1329.8" stroke="#000" stroke-width="1.7" stroke-linecap="butt"/>
<line x1="404.8" y1="1349.6" x2="418.2" y2="1349.6" stroke="#000" stroke-width="1.7" stroke-linecap="butt"/>
<line x1="466.8" y1="1328.2" x2="466.8" y2="1343.6" stroke="#000" stroke-width="1.7" stroke-linecap="butt"/>
<line x1="460" y1="1328.2" x2="473.5" y2="1328.2" stroke="#000" stroke-width="1.7" stroke-linecap="butt"/>
<line x1="460" y1="1343.6" x2="473.5" y2="1343.6" stroke="#000" stroke-width="1.7" stroke-linecap="butt"/>
<line x1="522" y1="1231" x2="522" y2="1276.2" stroke="#000" stroke-width="1.7" stroke-linecap="butt"/>
<line x1="515.3" y1="1231" x2="528.8" y2="1231" stroke="#000" stroke-width="1.7" stroke-linecap="butt"/>
<line x1="515.3" y1="1276.2" x2="528.8" y2="1276.2" stroke="#000" stroke-width="1.7" stroke-linecap="butt"/>
<line x1="577.3" y1="1231.1" x2="577.3" y2="1278.1" stroke="#000" stroke-width="1.7" stroke-linecap="butt"/>
<line x1="570.5" y1="1231.1" x2="584" y2="1231.1" stroke="#000" stroke-width="1.7" stroke-linecap="butt"/>
<line x1="570.5" y1="1278.1" x2="584" y2="1278.1" stroke="#000" stroke-width="1.7" stroke-linecap="butt"/>
<line x1="632.5" y1="1231.1" x2="632.5" y2="1279.9" stroke="#000" stroke-width="1.7" stroke-linecap="butt"/>
<line x1="625.8" y1="1231.1" x2="639.3" y2="1231.1" stroke="#000" stroke-width="1.7" stroke-linecap="butt"/>
<line x1="625.8" y1="1279.9" x2="639.3" y2="1279.9" stroke="#000" stroke-width="1.7" stroke-linecap="butt"/>
<rect x="129.1" y="1376.6" width="12.2" height="12.2" fill="#008a45" stroke="#000" stroke-width="1.8"/>
<rect x="184.4" y="1378.9" width="12.2" height="12.2" fill="#008a45" stroke="#000" stroke-width="1.8"/>
<rect x="239.6" y="1353.5" width="12.2" height="12.2" fill="#008a45" stroke="#000" stroke-width="1.8"/>
<rect x="294.9" y="1339.9" width="12.2" height="12.2" fill="#008a45" stroke="#000" stroke-width="1.8"/>
<rect x="350.1" y="1335.5" width="12.2" height="12.2" fill="#008a45" stroke="#000" stroke-width="1.8"/>
<rect x="405.4" y="1313.2" width="12.2" height="12.2" fill="#008a45" stroke="#000" stroke-width="1.8"/>
<rect x="460.7" y="1310.9" width="12.2" height="12.2" fill="#008a45" stroke="#000" stroke-width="1.8"/>
<rect x="515.9" y="1215.8" width="12.2" height="12.2" fill="#008a45" stroke="#000" stroke-width="1.8"/>
<rect x="571.2" y="1209.5" width="12.2" height="12.2" fill="#008a45" stroke="#000" stroke-width="1.8"/>
<rect x="626.4" y="1209.5" width="12.2" height="12.2" fill="#008a45" stroke="#000" stroke-width="1.8"/>
<circle cx="135.2" cy="1387.2" r="6.1" fill="#f3932f" stroke="#000" stroke-width="1.8"/>
<circle cx="190.5" cy="1389" r="6.1" fill="#f3932f" stroke="#000" stroke-width="1.8"/>
<circle cx="245.7" cy="1373.2" r="6.1" fill="#f3932f" stroke="#000" stroke-width="1.8"/>
<circle cx="301" cy="1361.8" r="6.1" fill="#f3932f" stroke="#000" stroke-width="1.8"/>
<circle cx="356.2" cy="1357.4" r="6.1" fill="#f3932f" stroke="#000" stroke-width="1.8"/>
<circle cx="411.5" cy="1339.7" r="6.1" fill="#f3932f" stroke="#000" stroke-width="1.8"/>
<circle cx="466.8" cy="1335.9" r="6.1" fill="#f3932f" stroke="#000" stroke-width="1.8"/>
<circle cx="522" cy="1253.6" r="6.1" fill="#f3932f" stroke="#000" stroke-width="1.8"/>
<circle cx="577.3" cy="1254.6" r="6.1" fill="#f3932f" stroke="#000" stroke-width="1.8"/>
<circle cx="632.5" cy="1255.5" r="6.1" fill="#f3932f" stroke="#000" stroke-width="1.8"/>
<text x="28.7" y="1266.4" font-size="30" text-anchor="middle" transform="rotate(-90 28.7 1266.4) translate(28.7 1266.4) scale(1 1.04) translate(-28.7 -1266.4)">ECAR (mpH<tspan font-size="21" dy="5">/</tspan><tspan dy="-5">min/µg protein)</tspan></text>
<line x1="787.1" y1="1107.2" x2="787.1" y2="1428" stroke="#000" stroke-width="4.5" stroke-linecap="butt"/>
<line x1="771.1" y1="1425.7" x2="1338.4" y2="1425.7" stroke="#000" stroke-width="4.5" stroke-linecap="butt"/>
<line x1="771.1" y1="1425.7" x2="787.1" y2="1425.7" stroke="#000" stroke-width="4.5" stroke-linecap="butt"/>
<text x="766.6" y="1436.3" font-size="30" text-anchor="end" transform="translate(0 1436.3) scale(1 1.04) translate(0 -1436.3)">0</text>
<line x1="771.1" y1="1346.7" x2="787.1" y2="1346.7" stroke="#000" stroke-width="4.5" stroke-linecap="butt"/>
<text x="766.6" y="1357.2" font-size="30" text-anchor="end" transform="translate(0 1357.2) scale(1 1.04) translate(0 -1357.2)">10</text>
<line x1="771.1" y1="1267.6" x2="787.1" y2="1267.6" stroke="#000" stroke-width="4.5" stroke-linecap="butt"/>
<text x="766.6" y="1278.2" font-size="30" text-anchor="end" transform="translate(0 1278.2) scale(1 1.04) translate(0 -1278.2)">20</text>
<line x1="771.1" y1="1188.5" x2="787.1" y2="1188.5" stroke="#000" stroke-width="4.5" stroke-linecap="butt"/>
<text x="766.6" y="1199.1" font-size="30" text-anchor="end" transform="translate(0 1199.1) scale(1 1.04) translate(0 -1199.1)">30</text>
<line x1="771.1" y1="1109.5" x2="787.1" y2="1109.5" stroke="#000" stroke-width="4.5" stroke-linecap="butt"/>
<text x="766.6" y="1120.1" font-size="30" text-anchor="end" transform="translate(0 1120.1) scale(1 1.04) translate(0 -1120.1)">40</text>
<line x1="814.5" y1="1425.7" x2="814.5" y2="1441.7" stroke="#000" stroke-width="4.5" stroke-linecap="butt"/>
<text x="814.5" y="1474.2" font-size="30" text-anchor="middle" transform="translate(0 1474.2) scale(1 1.04) translate(0 -1474.2)">2</text>
<line x1="869.7" y1="1425.7" x2="869.7" y2="1441.7" stroke="#000" stroke-width="4.5" stroke-linecap="butt"/>
<text x="869.7" y="1474.2" font-size="30" text-anchor="middle" transform="translate(0 1474.2) scale(1 1.04) translate(0 -1474.2)">10</text>
<line x1="924.8" y1="1425.7" x2="924.8" y2="1441.7" stroke="#000" stroke-width="4.5" stroke-linecap="butt"/>
<text x="924.8" y="1474.2" font-size="30" text-anchor="middle" transform="translate(0 1474.2) scale(1 1.04) translate(0 -1474.2)">19</text>
<line x1="980" y1="1425.7" x2="980" y2="1441.7" stroke="#000" stroke-width="4.5" stroke-linecap="butt"/>
<text x="980" y="1474.2" font-size="30" text-anchor="middle" transform="translate(0 1474.2) scale(1 1.04) translate(0 -1474.2)">28</text>
<line x1="1035.2" y1="1425.7" x2="1035.2" y2="1441.7" stroke="#000" stroke-width="4.5" stroke-linecap="butt"/>
<text x="1035.2" y="1474.2" font-size="30" text-anchor="middle" transform="translate(0 1474.2) scale(1 1.04) translate(0 -1474.2)">37</text>
<line x1="1090.3" y1="1425.7" x2="1090.3" y2="1441.7" stroke="#000" stroke-width="4.5" stroke-linecap="butt"/>
<text x="1090.3" y="1474.2" font-size="30" text-anchor="middle" transform="translate(0 1474.2) scale(1 1.04) translate(0 -1474.2)">45</text>
<line x1="1145.5" y1="1425.7" x2="1145.5" y2="1441.7" stroke="#000" stroke-width="4.5" stroke-linecap="butt"/>
<text x="1145.5" y="1474.2" font-size="30" text-anchor="middle" transform="translate(0 1474.2) scale(1 1.04) translate(0 -1474.2)">54</text>
<line x1="1200.7" y1="1425.7" x2="1200.7" y2="1441.7" stroke="#000" stroke-width="4.5" stroke-linecap="butt"/>
<text x="1200.7" y="1474.2" font-size="30" text-anchor="middle" transform="translate(0 1474.2) scale(1 1.04) translate(0 -1474.2)">63</text>
<line x1="1255.9" y1="1425.7" x2="1255.9" y2="1441.7" stroke="#000" stroke-width="4.5" stroke-linecap="butt"/>
<text x="1255.9" y="1474.2" font-size="30" text-anchor="middle" transform="translate(0 1474.2) scale(1 1.04) translate(0 -1474.2)">72</text>
<line x1="1311" y1="1425.7" x2="1311" y2="1441.7" stroke="#000" stroke-width="4.5" stroke-linecap="butt"/>
<text x="1311" y="1474.2" font-size="30" text-anchor="middle" transform="translate(0 1474.2) scale(1 1.04) translate(0 -1474.2)">80</text>
<text x="1346.6" y="1468.2" font-size="30" transform="translate(0 1468.2) scale(1 1.04) translate(0 -1468.2)">(min)</text>
<text x="835.5" y="1107" font-size="30" transform="translate(0 1107) scale(1 1.04) translate(0 -1107)">Glucose</text>
<line x1="883.9" y1="1120.8" x2="883.9" y2="1173.1" stroke="#000" stroke-width="4" stroke-linecap="round" stroke-dasharray="8.6 7.4" stroke-dashoffset="0"/>
<line x1="883.9" y1="1169.1" x2="883.9" y2="1177.1" stroke="#000" stroke-width="4" stroke-linecap="round"/>
<polygon points="876.6,1176.1 891.1,1176.1 883.9,1188.9" fill="#000" stroke="none"/>
<text x="993.3" y="1105.6" font-size="30" transform="translate(0 1105.6) scale(1 1.04) translate(0 -1105.6)">Rot/Myx</text>
<line x1="1051.7" y1="1129" x2="1051.7" y2="1227.8" stroke="#000" stroke-width="4" stroke-linecap="round" stroke-dasharray="8.6 7.4" stroke-dashoffset="0"/>
<line x1="1051.7" y1="1223.8" x2="1051.7" y2="1231.8" stroke="#000" stroke-width="4" stroke-linecap="round"/>
<polygon points="1044.5,1230.8 1059,1230.8 1051.7,1243.6" fill="#000" stroke="none"/>
<text x="1130.6" y="1105.6" font-size="30" transform="translate(0 1105.6) scale(1 1.04) translate(0 -1105.6)">Mon/FCCP</text>
<line x1="1164.9" y1="1123.5" x2="1164.9" y2="1266.9" stroke="#000" stroke-width="4" stroke-linecap="round" stroke-dasharray="8.6 7.4" stroke-dashoffset="0"/>
<line x1="1164.9" y1="1262.9" x2="1164.9" y2="1270.9" stroke="#000" stroke-width="4" stroke-linecap="round"/>
<polygon points="1157.7,1269.9 1172.2,1269.9 1164.9,1282.7" fill="#000" stroke="none"/>
<polyline points="814.5,1183.6 869.7,1188 924.8,1222.1 980,1231.4 1035.2,1238 1090.3,1285.7 1145.5,1287.4 1200.7,1290.8 1255.9,1295.7 1311,1299.5" fill="none" stroke="#000" stroke-width="1.6" stroke-linejoin="miter"/>
<polyline points="814.5,1224.2 869.7,1230.2 924.8,1259.9 980,1265.9 1035.2,1272.5 1090.3,1318.1 1145.5,1318.6 1200.7,1323.6 1255.9,1325.2 1311,1329" fill="none" stroke="#000" stroke-width="1.6" stroke-linejoin="miter"/>
<line x1="814.5" y1="1162.8" x2="814.5" y2="1204.4" stroke="#000" stroke-width="1.7" stroke-linecap="butt"/>
<line x1="807.8" y1="1162.8" x2="821.2" y2="1162.8" stroke="#000" stroke-width="1.7" stroke-linecap="butt"/>
<line x1="807.8" y1="1204.4" x2="821.2" y2="1204.4" stroke="#000" stroke-width="1.7" stroke-linecap="butt"/>
<line x1="869.7" y1="1167.2" x2="869.7" y2="1208.8" stroke="#000" stroke-width="1.7" stroke-linecap="butt"/>
<line x1="862.9" y1="1167.2" x2="876.4" y2="1167.2" stroke="#000" stroke-width="1.7" stroke-linecap="butt"/>
<line x1="862.9" y1="1208.8" x2="876.4" y2="1208.8" stroke="#000" stroke-width="1.7" stroke-linecap="butt"/>
<line x1="924.8" y1="1202.3" x2="924.8" y2="1241.9" stroke="#000" stroke-width="1.7" stroke-linecap="butt"/>
<line x1="918.1" y1="1202.3" x2="931.6" y2="1202.3" stroke="#000" stroke-width="1.7" stroke-linecap="butt"/>
<line x1="918.1" y1="1241.9" x2="931.6" y2="1241.9" stroke="#000" stroke-width="1.7" stroke-linecap="butt"/>
<line x1="980" y1="1211.7" x2="980" y2="1251.1" stroke="#000" stroke-width="1.7" stroke-linecap="butt"/>
<line x1="973.3" y1="1211.7" x2="986.8" y2="1211.7" stroke="#000" stroke-width="1.7" stroke-linecap="butt"/>
<line x1="973.3" y1="1251.1" x2="986.8" y2="1251.1" stroke="#000" stroke-width="1.7" stroke-linecap="butt"/>
<line x1="1035.2" y1="1218.3" x2="1035.2" y2="1257.7" stroke="#000" stroke-width="1.7" stroke-linecap="butt"/>
<line x1="1028.4" y1="1218.3" x2="1041.9" y2="1218.3" stroke="#000" stroke-width="1.7" stroke-linecap="butt"/>
<line x1="1028.4" y1="1257.7" x2="1041.9" y2="1257.7" stroke="#000" stroke-width="1.7" stroke-linecap="butt"/>
<line x1="1090.3" y1="1268.2" x2="1090.3" y2="1303.2" stroke="#000" stroke-width="1.7" stroke-linecap="butt"/>
<line x1="1083.6" y1="1268.2" x2="1097.1" y2="1268.2" stroke="#000" stroke-width="1.7" stroke-linecap="butt"/>
<line x1="1083.6" y1="1303.2" x2="1097.1" y2="1303.2" stroke="#000" stroke-width="1.7" stroke-linecap="butt"/>
<line x1="1145.5" y1="1268.2" x2="1145.5" y2="1306.6" stroke="#000" stroke-width="1.7" stroke-linecap="butt"/>
<line x1="1138.8" y1="1268.2" x2="1152.3" y2="1268.2" stroke="#000" stroke-width="1.7" stroke-linecap="butt"/>
<line x1="1138.8" y1="1306.6" x2="1152.3" y2="1306.6" stroke="#000" stroke-width="1.7" stroke-linecap="butt"/>
<line x1="1200.7" y1="1273.2" x2="1200.7" y2="1308.4" stroke="#000" stroke-width="1.7" stroke-linecap="butt"/>
<line x1="1193.9" y1="1273.2" x2="1207.4" y2="1273.2" stroke="#000" stroke-width="1.7" stroke-linecap="butt"/>
<line x1="1193.9" y1="1308.4" x2="1207.4" y2="1308.4" stroke="#000" stroke-width="1.7" stroke-linecap="butt"/>
<line x1="1255.9" y1="1278.7" x2="1255.9" y2="1312.7" stroke="#000" stroke-width="1.7" stroke-linecap="butt"/>
<line x1="1249.1" y1="1278.7" x2="1262.6" y2="1278.7" stroke="#000" stroke-width="1.7" stroke-linecap="butt"/>
<line x1="1249.1" y1="1312.7" x2="1262.6" y2="1312.7" stroke="#000" stroke-width="1.7" stroke-linecap="butt"/>
<line x1="1311" y1="1282.5" x2="1311" y2="1316.5" stroke="#000" stroke-width="1.7" stroke-linecap="butt"/>
<line x1="1304.3" y1="1282.5" x2="1317.8" y2="1282.5" stroke="#000" stroke-width="1.7" stroke-linecap="butt"/>
<line x1="1304.3" y1="1316.5" x2="1317.8" y2="1316.5" stroke="#000" stroke-width="1.7" stroke-linecap="butt"/>
<line x1="814.5" y1="1214.6" x2="814.5" y2="1233.8" stroke="#000" stroke-width="1.7" stroke-linecap="butt"/>
<line x1="807.8" y1="1214.6" x2="821.2" y2="1214.6" stroke="#000" stroke-width="1.7" stroke-linecap="butt"/>
<line x1="807.8" y1="1233.8" x2="821.2" y2="1233.8" stroke="#000" stroke-width="1.7" stroke-linecap="butt"/>
<line x1="869.7" y1="1222.5" x2="869.7" y2="1237.9" stroke="#000" stroke-width="1.7" stroke-linecap="butt"/>
<line x1="862.9" y1="1222.5" x2="876.4" y2="1222.5" stroke="#000" stroke-width="1.7" stroke-linecap="butt"/>
<line x1="862.9" y1="1237.9" x2="876.4" y2="1237.9" stroke="#000" stroke-width="1.7" stroke-linecap="butt"/>
<line x1="924.8" y1="1252.5" x2="924.8" y2="1267.3" stroke="#000" stroke-width="1.7" stroke-linecap="butt"/>
<line x1="918.1" y1="1252.5" x2="931.6" y2="1252.5" stroke="#000" stroke-width="1.7" stroke-linecap="butt"/>
<line x1="918.1" y1="1267.3" x2="931.6" y2="1267.3" stroke="#000" stroke-width="1.7" stroke-linecap="butt"/>
<line x1="980" y1="1257.4" x2="980" y2="1274.4" stroke="#000" stroke-width="1.7" stroke-linecap="butt"/>
<line x1="973.3" y1="1257.4" x2="986.8" y2="1257.4" stroke="#000" stroke-width="1.7" stroke-linecap="butt"/>
<line x1="973.3" y1="1274.4" x2="986.8" y2="1274.4" stroke="#000" stroke-width="1.7" stroke-linecap="butt"/>
<line x1="1035.2" y1="1262.9" x2="1035.2" y2="1282.1" stroke="#000" stroke-width="1.7" stroke-linecap="butt"/>
<line x1="1028.4" y1="1262.9" x2="1041.9" y2="1262.9" stroke="#000" stroke-width="1.7" stroke-linecap="butt"/>
<line x1="1028.4" y1="1282.1" x2="1041.9" y2="1282.1" stroke="#000" stroke-width="1.7" stroke-linecap="butt"/>
<line x1="1090.3" y1="1303.1" x2="1090.3" y2="1333.1" stroke="#000" stroke-width="1.7" stroke-linecap="butt"/>
<line x1="1083.6" y1="1303.1" x2="1097.1" y2="1303.1" stroke="#000" stroke-width="1.7" stroke-linecap="butt"/>
<line x1="1083.6" y1="1333.1" x2="1097.1" y2="1333.1" stroke="#000" stroke-width="1.7" stroke-linecap="butt"/>
<line x1="1145.5" y1="1302.4" x2="1145.5" y2="1334.8" stroke="#000" stroke-width="1.7" stroke-linecap="butt"/>
<line x1="1138.8" y1="1302.4" x2="1152.3" y2="1302.4" stroke="#000" stroke-width="1.7" stroke-linecap="butt"/>
<line x1="1138.8" y1="1334.8" x2="1152.3" y2="1334.8" stroke="#000" stroke-width="1.7" stroke-linecap="butt"/>
<line x1="1200.7" y1="1307.2" x2="1200.7" y2="1340" stroke="#000" stroke-width="1.7" stroke-linecap="butt"/>
<line x1="1193.9" y1="1307.2" x2="1207.4" y2="1307.2" stroke="#000" stroke-width="1.7" stroke-linecap="butt"/>
<line x1="1193.9" y1="1340" x2="1207.4" y2="1340" stroke="#000" stroke-width="1.7" stroke-linecap="butt"/>
<line x1="1255.9" y1="1308.5" x2="1255.9" y2="1341.9" stroke="#000" stroke-width="1.7" stroke-linecap="butt"/>
<line x1="1249.1" y1="1308.5" x2="1262.6" y2="1308.5" stroke="#000" stroke-width="1.7" stroke-linecap="butt"/>
<line x1="1249.1" y1="1341.9" x2="1262.6" y2="1341.9" stroke="#000" stroke-width="1.7" stroke-linecap="butt"/>
<line x1="1311" y1="1311.7" x2="1311" y2="1346.3" stroke="#000" stroke-width="1.7" stroke-linecap="butt"/>
<line x1="1304.3" y1="1311.7" x2="1317.8" y2="1311.7" stroke="#000" stroke-width="1.7" stroke-linecap="butt"/>
<line x1="1304.3" y1="1346.3" x2="1317.8" y2="1346.3" stroke="#000" stroke-width="1.7" stroke-linecap="butt"/>
<rect x="808.4" y="1177.5" width="12.2" height="12.2" fill="#008a45" stroke="#000" stroke-width="1.8"/>
<rect x="863.6" y="1181.9" width="12.2" height="12.2" fill="#008a45" stroke="#000" stroke-width="1.8"/>
<rect x="918.7" y="1216" width="12.2" height="12.2" fill="#008a45" stroke="#000" stroke-width="1.8"/>
<rect x="973.9" y="1225.3" width="12.2" height="12.2" fill="#008a45" stroke="#000" stroke-width="1.8"/>
<rect x="1029.1" y="1231.9" width="12.2" height="12.2" fill="#008a45" stroke="#000" stroke-width="1.8"/>
<rect x="1084.2" y="1279.6" width="12.2" height="12.2" fill="#008a45" stroke="#000" stroke-width="1.8"/>
<rect x="1139.4" y="1281.3" width="12.2" height="12.2" fill="#008a45" stroke="#000" stroke-width="1.8"/>
<rect x="1194.6" y="1284.7" width="12.2" height="12.2" fill="#008a45" stroke="#000" stroke-width="1.8"/>
<rect x="1249.8" y="1289.6" width="12.2" height="12.2" fill="#008a45" stroke="#000" stroke-width="1.8"/>
<rect x="1304.9" y="1293.4" width="12.2" height="12.2" fill="#008a45" stroke="#000" stroke-width="1.8"/>
<circle cx="814.5" cy="1224.2" r="6.1" fill="#f3932f" stroke="#000" stroke-width="1.8"/>
<circle cx="869.7" cy="1230.2" r="6.1" fill="#f3932f" stroke="#000" stroke-width="1.8"/>
<circle cx="924.8" cy="1259.9" r="6.1" fill="#f3932f" stroke="#000" stroke-width="1.8"/>
<circle cx="980" cy="1265.9" r="6.1" fill="#f3932f" stroke="#000" stroke-width="1.8"/>
<circle cx="1035.2" cy="1272.5" r="6.1" fill="#f3932f" stroke="#000" stroke-width="1.8"/>
<circle cx="1090.3" cy="1318.1" r="6.1" fill="#f3932f" stroke="#000" stroke-width="1.8"/>
<circle cx="1145.5" cy="1318.6" r="6.1" fill="#f3932f" stroke="#000" stroke-width="1.8"/>
<circle cx="1200.7" cy="1323.6" r="6.1" fill="#f3932f" stroke="#000" stroke-width="1.8"/>
<circle cx="1255.9" cy="1325.2" r="6.1" fill="#f3932f" stroke="#000" stroke-width="1.8"/>
<circle cx="1311" cy="1329" r="6.1" fill="#f3932f" stroke="#000" stroke-width="1.8"/>
<text x="706" y="1266" font-size="29.9" text-anchor="middle" transform="rotate(-90 706 1266) translate(706 1266) scale(1 1.04) translate(-706 -1266)">OCR (pMoles O<tspan font-size="21" dy="6">2/</tspan><tspan dy="-6">min/µg protein)</tspan></text>
<line x1="170.5" y1="602.4" x2="170.5" y2="869.2" stroke="#000" stroke-width="4" stroke-linecap="butt"/>
<line x1="157.4" y1="867.2" x2="564.3" y2="867.2" stroke="#000" stroke-width="4.5" stroke-linecap="butt"/>
<line x1="157.4" y1="867.2" x2="170.5" y2="867.2" stroke="#000" stroke-width="4" stroke-linecap="butt"/>
<text x="153.2" y="877.5" font-size="28.3" text-anchor="end" transform="translate(0 877.5) scale(1 1.04) translate(0 -877.5)">0</text>
<line x1="157.4" y1="801.6" x2="170.5" y2="801.6" stroke="#000" stroke-width="4" stroke-linecap="butt"/>
<text x="153.2" y="811.9" font-size="28.3" text-anchor="end" transform="translate(0 811.9) scale(1 1.04) translate(0 -811.9)">5</text>
<line x1="157.4" y1="735.9" x2="170.5" y2="735.9" stroke="#000" stroke-width="4" stroke-linecap="butt"/>
<text x="153.2" y="746.2" font-size="28.3" text-anchor="end" transform="translate(0 746.2) scale(1 1.04) translate(0 -746.2)">10</text>
<line x1="157.4" y1="670.2" x2="170.5" y2="670.2" stroke="#000" stroke-width="4" stroke-linecap="butt"/>
<text x="153.2" y="680.5" font-size="28.3" text-anchor="end" transform="translate(0 680.5) scale(1 1.04) translate(0 -680.5)">15</text>
<line x1="157.4" y1="604.6" x2="170.5" y2="604.6" stroke="#000" stroke-width="4" stroke-linecap="butt"/>
<text x="153.2" y="614.9" font-size="28.3" text-anchor="end" transform="translate(0 614.9) scale(1 1.04) translate(0 -614.9)">20</text>
<line x1="230.4" y1="867.2" x2="230.4" y2="880.5" stroke="#000" stroke-width="4.5" stroke-linecap="butt"/>
<line x1="366.8" y1="867.2" x2="366.8" y2="880.5" stroke="#000" stroke-width="4.5" stroke-linecap="butt"/>
<line x1="503.8" y1="867.2" x2="503.8" y2="880.5" stroke="#000" stroke-width="4.5" stroke-linecap="butt"/>
<rect x="188.9" y="735" width="31.5" height="132.2" fill="#fff" stroke="#000" stroke-width="3"/>
<rect x="240.4" y="683.6" width="31.5" height="183.6" fill="#fff" stroke="#000" stroke-width="3"/>
<rect x="325.9" y="790.7" width="31.5" height="76.5" fill="#fff" stroke="#000" stroke-width="3"/>
<rect x="377.2" y="767.1" width="31.5" height="100.1" fill="#fff" stroke="#000" stroke-width="3"/>
<rect x="463.1" y="849.2" width="31.5" height="18" fill="#fff" stroke="#000" stroke-width="3"/>
<rect x="514.5" y="837.8" width="31.5" height="29.4" fill="#fff" stroke="#000" stroke-width="3"/>
<line x1="204.7" y1="722.2" x2="204.7" y2="743.1" stroke="#000" stroke-width="2" stroke-linecap="butt"/>
<line x1="195.9" y1="722.2" x2="213.5" y2="722.2" stroke="#000" stroke-width="2" stroke-linecap="butt"/>
<line x1="195.9" y1="743.1" x2="213.5" y2="743.1" stroke="#000" stroke-width="2" stroke-linecap="butt"/>
<line x1="256.2" y1="669.5" x2="256.2" y2="693.2" stroke="#000" stroke-width="2" stroke-linecap="butt"/>
<line x1="247.4" y1="669.5" x2="265" y2="669.5" stroke="#000" stroke-width="2" stroke-linecap="butt"/>
<line x1="247.4" y1="693.2" x2="265" y2="693.2" stroke="#000" stroke-width="2" stroke-linecap="butt"/>
<line x1="341.7" y1="784.2" x2="341.7" y2="796" stroke="#000" stroke-width="2" stroke-linecap="butt"/>
<line x1="332.9" y1="784.2" x2="350.5" y2="784.2" stroke="#000" stroke-width="2" stroke-linecap="butt"/>
<line x1="332.9" y1="796" x2="350.5" y2="796" stroke="#000" stroke-width="2" stroke-linecap="butt"/>
<line x1="393" y1="758.3" x2="393" y2="770" stroke="#000" stroke-width="2" stroke-linecap="butt"/>
<line x1="384.2" y1="758.3" x2="401.8" y2="758.3" stroke="#000" stroke-width="2" stroke-linecap="butt"/>
<line x1="384.2" y1="770" x2="401.8" y2="770" stroke="#000" stroke-width="2" stroke-linecap="butt"/>
<line x1="478.8" y1="845" x2="478.8" y2="852" stroke="#000" stroke-width="2" stroke-linecap="butt"/>
<line x1="470" y1="845" x2="487.6" y2="845" stroke="#000" stroke-width="2" stroke-linecap="butt"/>
<line x1="470" y1="852" x2="487.6" y2="852" stroke="#000" stroke-width="2" stroke-linecap="butt"/>
<line x1="530.2" y1="832.7" x2="530.2" y2="842" stroke="#000" stroke-width="2" stroke-linecap="butt"/>
<line x1="521.4" y1="832.7" x2="539" y2="832.7" stroke="#000" stroke-width="2" stroke-linecap="butt"/>
<line x1="521.4" y1="842" x2="539" y2="842" stroke="#000" stroke-width="2" stroke-linecap="butt"/>
<circle cx="204.9" cy="695" r="5.2" fill="#f3932f" stroke="#000" stroke-width="1.4"/>
<circle cx="204.9" cy="727" r="5.2" fill="#f3932f" stroke="#000" stroke-width="1.4"/>
<circle cx="204.9" cy="737.2" r="5.2" fill="#f3932f" stroke="#000" stroke-width="1.4"/>
<circle cx="193.1" cy="753.3" r="5.2" fill="#f3932f" stroke="#000" stroke-width="1.4"/>
<circle cx="216.6" cy="750.5" r="5.2" fill="#f3932f" stroke="#000" stroke-width="1.4"/>
<rect x="239.1" y="649.5" width="10.4" height="10.4" fill="#008a45" stroke="#000" stroke-width="1.4"/>
<rect x="262.8" y="654.7" width="10.4" height="10.4" fill="#008a45" stroke="#000" stroke-width="1.4"/>
<rect x="251.1" y="667.6" width="10.4" height="10.4" fill="#008a45" stroke="#000" stroke-width="1.4"/>
<rect x="239.1" y="707.4" width="10.4" height="10.4" fill="#008a45" stroke="#000" stroke-width="1.4"/>
<rect x="262.8" y="700.9" width="10.4" height="10.4" fill="#008a45" stroke="#000" stroke-width="1.4"/>
<circle cx="342" cy="770.8" r="5.2" fill="#f3932f" stroke="#000" stroke-width="1.4"/>
<circle cx="337.7" cy="788.8" r="5.2" fill="#f3932f" stroke="#000" stroke-width="1.4"/>
<circle cx="353.4" cy="788.8" r="5.2" fill="#f3932f" stroke="#000" stroke-width="1.4"/>
<circle cx="329.8" cy="797.7" r="5.2" fill="#f3932f" stroke="#000" stroke-width="1.4"/>
<circle cx="345.7" cy="795.3" r="5.2" fill="#f3932f" stroke="#000" stroke-width="1.4"/>
<rect x="376" y="744.9" width="10.4" height="10.4" fill="#008a45" stroke="#000" stroke-width="1.4"/>
<rect x="399.7" y="746.8" width="10.4" height="10.4" fill="#008a45" stroke="#000" stroke-width="1.4"/>
<rect x="388" y="758.2" width="10.4" height="10.4" fill="#008a45" stroke="#000" stroke-width="1.4"/>
<rect x="376" y="773" width="10.4" height="10.4" fill="#008a45" stroke="#000" stroke-width="1.4"/>
<rect x="399.7" y="771.6" width="10.4" height="10.4" fill="#008a45" stroke="#000" stroke-width="1.4"/>
<circle cx="466.8" cy="846.3" r="5.2" fill="#f3932f" stroke="#000" stroke-width="1.4"/>
<circle cx="472.9" cy="844" r="5.2" fill="#f3932f" stroke="#000" stroke-width="1.4"/>
<circle cx="478.6" cy="846.3" r="5.2" fill="#f3932f" stroke="#000" stroke-width="1.4"/>
<circle cx="484.7" cy="844" r="5.2" fill="#f3932f" stroke="#000" stroke-width="1.4"/>
<circle cx="490.2" cy="853" r="5.2" fill="#f3932f" stroke="#000" stroke-width="1.4"/>
<rect x="524.8" y="814.6" width="10.4" height="10.4" fill="#008a45" stroke="#000" stroke-width="1.4"/>
<rect x="513" y="839.5" width="10.4" height="10.4" fill="#008a45" stroke="#000" stroke-width="1.4"/>
<rect x="521.3" y="834.3" width="10.4" height="10.4" fill="#008a45" stroke="#000" stroke-width="1.4"/>
<rect x="528.8" y="834.3" width="10.4" height="10.4" fill="#008a45" stroke="#000" stroke-width="1.4"/>
<rect x="536.8" y="834.3" width="10.4" height="10.4" fill="#008a45" stroke="#000" stroke-width="1.4"/>
<polyline points="203.3,630.3 203.3,615.5 255.4,615.5 255.4,636.8" fill="none" stroke="#000" stroke-width="2.8" stroke-linejoin="miter" stroke-linecap="round"/>
<text x="227.4" y="600.7" font-size="24.5" text-anchor="middle" transform="translate(0 600.7) scale(1 1.04) translate(0 -600.7)">0.0116</text>
<polyline points="341.4,735.7 341.4,719.4 393.8,719.4 393.8,733.8" fill="none" stroke="#000" stroke-width="2.8" stroke-linejoin="miter" stroke-linecap="round"/>
<text x="369" y="703.3" font-size="24.5" text-anchor="middle" transform="translate(0 703.3) scale(1 1.04) translate(0 -703.3)">0.0118</text>
<polyline points="480.4,802.4 480.4,788 530.3,788 530.3,798.7" fill="none" stroke="#000" stroke-width="2.8" stroke-linejoin="miter" stroke-linecap="round"/>
<text x="505.2" y="772.2" font-size="24.5" text-anchor="middle" transform="translate(0 772.2) scale(1 1.04) translate(0 -772.2)">0.0238</text>
<circle cx="457" cy="600.8" r="5.5" fill="#f3932f" stroke="#000" stroke-width="1.2"/>
<text x="487.2" y="610.2" font-size="24.5" transform="translate(0 610.2) scale(1 1.04) translate(0 -610.2)">ShCtrl</text>
<rect x="451.7" y="629.8" width="10.6" height="10.6" fill="#008a45" stroke="#000" stroke-width="1.2"/>
<text x="487.2" y="643.8" font-size="24.5" transform="translate(0 643.8) scale(1 1.04) translate(0 -643.8)">Sh<tspan font-style="italic">Opa1</tspan></text>
<text x="236.7" y="902.5" font-size="29" text-anchor="end" transform="rotate(-45 236.7 902.5) translate(236.7 902.5) scale(1 1.04) translate(-236.7 -902.5)">Basal</text>
<text x="373.1" y="902.5" font-size="29" text-anchor="end" transform="rotate(-45 373.1 902.5) translate(373.1 902.5) scale(1 1.04) translate(-373.1 -902.5)">Glucose</text>
<text x="510.1" y="902.5" font-size="29" text-anchor="end" transform="rotate(-45 510.1 902.5) translate(510.1 902.5) scale(1 1.04) translate(-510.1 -902.5)">Oligomycin</text>
<text x="75" y="734.6" font-size="28.65" text-anchor="middle" transform="rotate(-90 75 734.6) translate(75 734.6) scale(1 1.04) translate(-75 -734.6)">Mitochondrial OCR</text>
<text x="107.2" y="734.4" font-size="28.6" text-anchor="middle" transform="rotate(-90 107.2 734.4) translate(107.2 734.4) scale(1 1.04) translate(-107.2 -734.4)">(pMoles O<tspan font-size="19.5" dy="6">2/</tspan><tspan dy="-6">min/µg protein)</tspan></text>
<line x1="779.4" y1="595.3" x2="779.4" y2="862.5" stroke="#000" stroke-width="3.9" stroke-linecap="butt"/>
<line x1="765.3" y1="860.5" x2="1458" y2="860.5" stroke="#000" stroke-width="4.2" stroke-linecap="butt"/>
<line x1="765.3" y1="860.5" x2="779.4" y2="860.5" stroke="#000" stroke-width="3.9" stroke-linecap="butt"/>
<text x="762" y="869.8" font-size="25.3" text-anchor="end" transform="translate(0 869.8) scale(1 1.04) translate(0 -869.8)">0</text>
<line x1="765.3" y1="794.7" x2="779.4" y2="794.7" stroke="#000" stroke-width="3.9" stroke-linecap="butt"/>
<text x="762" y="804" font-size="25.3" text-anchor="end" transform="translate(0 804) scale(1 1.04) translate(0 -804)">50</text>
<line x1="765.3" y1="728.9" x2="779.4" y2="728.9" stroke="#000" stroke-width="3.9" stroke-linecap="butt"/>
<text x="762" y="738.2" font-size="25.3" text-anchor="end" transform="translate(0 738.2) scale(1 1.04) translate(0 -738.2)">100</text>
<line x1="765.3" y1="663.1" x2="779.4" y2="663.1" stroke="#000" stroke-width="3.9" stroke-linecap="butt"/>
<text x="762" y="672.4" font-size="25.3" text-anchor="end" transform="translate(0 672.4) scale(1 1.04) translate(0 -672.4)">150</text>
<line x1="765.3" y1="597.3" x2="779.4" y2="597.3" stroke="#000" stroke-width="3.9" stroke-linecap="butt"/>
<text x="762" y="606.6" font-size="25.3" text-anchor="end" transform="translate(0 606.6) scale(1 1.04) translate(0 -606.6)">200</text>
<line x1="807.6" y1="860.5" x2="807.6" y2="874" stroke="#000" stroke-width="4.2" stroke-linecap="butt"/>
<line x1="851.2" y1="860.5" x2="851.2" y2="874" stroke="#000" stroke-width="4.2" stroke-linecap="butt"/>
<line x1="924" y1="860.5" x2="924" y2="874" stroke="#000" stroke-width="4.2" stroke-linecap="butt"/>
<line x1="967.1" y1="860.5" x2="967.1" y2="874" stroke="#000" stroke-width="4.2" stroke-linecap="butt"/>
<line x1="1039.3" y1="860.5" x2="1039.3" y2="874" stroke="#000" stroke-width="4.2" stroke-linecap="butt"/>
<line x1="1082.8" y1="860.5" x2="1082.8" y2="874" stroke="#000" stroke-width="4.2" stroke-linecap="butt"/>
<line x1="1155.1" y1="860.5" x2="1155.1" y2="874" stroke="#000" stroke-width="4.2" stroke-linecap="butt"/>
<line x1="1198.8" y1="860.5" x2="1198.8" y2="874" stroke="#000" stroke-width="4.2" stroke-linecap="butt"/>
<line x1="1271" y1="860.5" x2="1271" y2="874" stroke="#000" stroke-width="4.2" stroke-linecap="butt"/>
<line x1="1314.3" y1="860.5" x2="1314.3" y2="874" stroke="#000" stroke-width="4.2" stroke-linecap="butt"/>
<line x1="1386.8" y1="860.5" x2="1386.8" y2="874" stroke="#000" stroke-width="4.2" stroke-linecap="butt"/>
<line x1="1429.7" y1="860.5" x2="1429.7" y2="874" stroke="#000" stroke-width="4.2" stroke-linecap="butt"/>
<rect x="794.3" y="794.7" width="26.7" height="65.8" fill="#fff" stroke="#000" stroke-width="2.6"/>
<rect x="837.9" y="806" width="26.7" height="54.5" fill="#fff" stroke="#000" stroke-width="2.6"/>
<rect x="910.6" y="782.2" width="26.7" height="78.3" fill="#fff" stroke="#000" stroke-width="2.6"/>
<rect x="953.8" y="786" width="26.7" height="74.5" fill="#fff" stroke="#000" stroke-width="2.6"/>
<rect x="1026" y="740.7" width="26.7" height="119.8" fill="#fff" stroke="#000" stroke-width="2.6"/>
<rect x="1069.5" y="828.3" width="26.7" height="32.2" fill="#fff" stroke="#000" stroke-width="2.6"/>
<rect x="1141.8" y="700.6" width="26.7" height="159.9" fill="#fff" stroke="#000" stroke-width="2.6"/>
<rect x="1185.4" y="831" width="26.7" height="29.5" fill="#fff" stroke="#000" stroke-width="2.6"/>
<rect x="1257.6" y="716.3" width="26.7" height="144.2" fill="#fff" stroke="#000" stroke-width="2.6"/>
<rect x="1301" y="859.7" width="26.7" height="0.8" fill="#fff" stroke="#000" stroke-width="2.6"/>
<rect x="1373.4" y="669.7" width="26.7" height="190.8" fill="#fff" stroke="#000" stroke-width="2.6"/>
<rect x="1416.4" y="858.5" width="26.7" height="2" fill="#fff" stroke="#000" stroke-width="2.6"/>
<line x1="807.6" y1="787" x2="807.6" y2="803" stroke="#000" stroke-width="2" stroke-linecap="butt"/>
<line x1="799.9" y1="787" x2="815.4" y2="787" stroke="#000" stroke-width="2" stroke-linecap="butt"/>
<line x1="799.9" y1="803" x2="815.4" y2="803" stroke="#000" stroke-width="2" stroke-linecap="butt"/>
<line x1="851.2" y1="794" x2="851.2" y2="817.6" stroke="#000" stroke-width="2" stroke-linecap="butt"/>
<line x1="843.4" y1="794" x2="859" y2="794" stroke="#000" stroke-width="2" stroke-linecap="butt"/>
<line x1="843.4" y1="817.6" x2="859" y2="817.6" stroke="#000" stroke-width="2" stroke-linecap="butt"/>
<line x1="924" y1="773" x2="924" y2="789" stroke="#000" stroke-width="2" stroke-linecap="butt"/>
<line x1="916.2" y1="773" x2="931.8" y2="773" stroke="#000" stroke-width="2" stroke-linecap="butt"/>
<line x1="916.2" y1="789" x2="931.8" y2="789" stroke="#000" stroke-width="2" stroke-linecap="butt"/>
<line x1="967.1" y1="777" x2="967.1" y2="796" stroke="#000" stroke-width="2" stroke-linecap="butt"/>
<line x1="959.4" y1="777" x2="974.9" y2="777" stroke="#000" stroke-width="2" stroke-linecap="butt"/>
<line x1="959.4" y1="796" x2="974.9" y2="796" stroke="#000" stroke-width="2" stroke-linecap="butt"/>
<line x1="1039.3" y1="693.2" x2="1039.3" y2="781.1" stroke="#000" stroke-width="2" stroke-linecap="butt"/>
<line x1="1031.5" y1="693.2" x2="1047.1" y2="693.2" stroke="#000" stroke-width="2" stroke-linecap="butt"/>
<line x1="1031.5" y1="781.1" x2="1047.1" y2="781.1" stroke="#000" stroke-width="2" stroke-linecap="butt"/>
<line x1="1082.8" y1="818.9" x2="1082.8" y2="838.7" stroke="#000" stroke-width="2" stroke-linecap="butt"/>
<line x1="1075" y1="818.9" x2="1090.6" y2="818.9" stroke="#000" stroke-width="2" stroke-linecap="butt"/>
<line x1="1075" y1="838.7" x2="1090.6" y2="838.7" stroke="#000" stroke-width="2" stroke-linecap="butt"/>
<line x1="1155.1" y1="680.8" x2="1155.1" y2="712.6" stroke="#000" stroke-width="2" stroke-linecap="butt"/>
<line x1="1147.3" y1="680.8" x2="1162.9" y2="680.8" stroke="#000" stroke-width="2" stroke-linecap="butt"/>
<line x1="1147.3" y1="712.6" x2="1162.9" y2="712.6" stroke="#000" stroke-width="2" stroke-linecap="butt"/>
<line x1="1198.8" y1="814" x2="1198.8" y2="848.5" stroke="#000" stroke-width="2" stroke-linecap="butt"/>
<line x1="1191" y1="814" x2="1206.5" y2="814" stroke="#000" stroke-width="2" stroke-linecap="butt"/>
<line x1="1191" y1="848.5" x2="1206.5" y2="848.5" stroke="#000" stroke-width="2" stroke-linecap="butt"/>
<line x1="1271" y1="711" x2="1271" y2="722" stroke="#000" stroke-width="2" stroke-linecap="butt"/>
<line x1="1263.2" y1="711" x2="1278.8" y2="711" stroke="#000" stroke-width="2" stroke-linecap="butt"/>
<line x1="1263.2" y1="722" x2="1278.8" y2="722" stroke="#000" stroke-width="2" stroke-linecap="butt"/>
<line x1="1314.3" y1="859" x2="1314.3" y2="861" stroke="#000" stroke-width="2" stroke-linecap="butt"/>
<line x1="1306.5" y1="859" x2="1322.1" y2="859" stroke="#000" stroke-width="2" stroke-linecap="butt"/>
<line x1="1306.5" y1="861" x2="1322.1" y2="861" stroke="#000" stroke-width="2" stroke-linecap="butt"/>
<line x1="1386.8" y1="662" x2="1386.8" y2="672" stroke="#000" stroke-width="2" stroke-linecap="butt"/>
<line x1="1379" y1="662" x2="1394.5" y2="662" stroke="#000" stroke-width="2" stroke-linecap="butt"/>
<line x1="1379" y1="672" x2="1394.5" y2="672" stroke="#000" stroke-width="2" stroke-linecap="butt"/>
<line x1="1429.7" y1="855" x2="1429.7" y2="861" stroke="#000" stroke-width="2" stroke-linecap="butt"/>
<line x1="1421.9" y1="855" x2="1437.5" y2="855" stroke="#000" stroke-width="2" stroke-linecap="butt"/>
<line x1="1421.9" y1="861" x2="1437.5" y2="861" stroke="#000" stroke-width="2" stroke-linecap="butt"/>
<circle cx="807.9" cy="793.3" r="6.3" fill="#f3932f" stroke="#000" stroke-width="1.5"/>
<circle cx="800.2" cy="789.4" r="6.3" fill="#f3932f" stroke="#000" stroke-width="1.5"/>
<circle cx="815.6" cy="784.3" r="6.3" fill="#f3932f" stroke="#000" stroke-width="1.5"/>
<circle cx="800.2" cy="806.2" r="6.3" fill="#f3932f" stroke="#000" stroke-width="1.5"/>
<circle cx="815.6" cy="799.9" r="6.3" fill="#f3932f" stroke="#000" stroke-width="1.5"/>
<circle cx="843.5" cy="788.9" r="6.3" fill="#f3932f" stroke="#000" stroke-width="1.5"/>
<circle cx="859.8" cy="799.9" r="6.3" fill="#f3932f" stroke="#000" stroke-width="1.5"/>
<circle cx="851.4" cy="808" r="6.3" fill="#f3932f" stroke="#000" stroke-width="1.5"/>
<circle cx="843.5" cy="815.7" r="6.3" fill="#f3932f" stroke="#000" stroke-width="1.5"/>
<circle cx="859.8" cy="813.8" r="6.3" fill="#f3932f" stroke="#000" stroke-width="1.5"/>
<rect x="909.9" y="763.2" width="12.7" height="12.7" fill="#008a45" stroke="#000" stroke-width="1.5"/>
<rect x="924.9" y="765.5" width="12.7" height="12.7" fill="#008a45" stroke="#000" stroke-width="1.5"/>
<rect x="909.9" y="781.9" width="12.7" height="12.7" fill="#008a45" stroke="#000" stroke-width="1.5"/>
<rect x="924.9" y="781.9" width="12.7" height="12.7" fill="#008a45" stroke="#000" stroke-width="1.5"/>
<rect x="917.5" y="774.9" width="12.7" height="12.7" fill="#008a45" stroke="#000" stroke-width="1.5"/>
<rect x="957" y="765.1" width="12.7" height="12.7" fill="#008a45" stroke="#000" stroke-width="1.5"/>
<rect x="965" y="769.8" width="12.7" height="12.7" fill="#008a45" stroke="#000" stroke-width="1.5"/>
<rect x="960.5" y="782.5" width="12.7" height="12.7" fill="#008a45" stroke="#000" stroke-width="1.5"/>
<rect x="952.9" y="790.8" width="12.7" height="12.7" fill="#008a45" stroke="#000" stroke-width="1.5"/>
<rect x="968.5" y="788.9" width="12.7" height="12.7" fill="#008a45" stroke="#000" stroke-width="1.5"/>
<circle cx="1039.1" cy="667.2" r="6.3" fill="#f3932f" stroke="#000" stroke-width="1.5"/>
<circle cx="1031.2" cy="738.4" r="6.3" fill="#f3932f" stroke="#000" stroke-width="1.5"/>
<circle cx="1047.2" cy="740.5" r="6.3" fill="#f3932f" stroke="#000" stroke-width="1.5"/>
<circle cx="1039.1" cy="751.5" r="6.3" fill="#f3932f" stroke="#000" stroke-width="1.5"/>
<circle cx="1039.1" cy="788.8" r="6.3" fill="#f3932f" stroke="#000" stroke-width="1.5"/>
<circle cx="1074.8" cy="814" r="6.3" fill="#f3932f" stroke="#000" stroke-width="1.5"/>
<circle cx="1080.1" cy="824.7" r="6.3" fill="#f3932f" stroke="#000" stroke-width="1.5"/>
<circle cx="1091.2" cy="829.6" r="6.3" fill="#f3932f" stroke="#000" stroke-width="1.5"/>
<circle cx="1085.5" cy="832.9" r="6.3" fill="#f3932f" stroke="#000" stroke-width="1.5"/>
<circle cx="1074.8" cy="836.2" r="6.3" fill="#f3932f" stroke="#000" stroke-width="1.5"/>
<rect x="1148.6" y="663.8" width="12.7" height="12.7" fill="#008a45" stroke="#000" stroke-width="1.5"/>
<rect x="1140.8" y="690.4" width="12.7" height="12.7" fill="#008a45" stroke="#000" stroke-width="1.5"/>
<rect x="1148.2" y="693" width="12.7" height="12.7" fill="#008a45" stroke="#000" stroke-width="1.5"/>
<rect x="1156.9" y="696.9" width="12.7" height="12.7" fill="#008a45" stroke="#000" stroke-width="1.5"/>
<rect x="1140.8" y="706.2" width="12.7" height="12.7" fill="#008a45" stroke="#000" stroke-width="1.5"/>
<rect x="1189.7" y="810.1" width="12.7" height="12.7" fill="#008a45" stroke="#000" stroke-width="1.5"/>
<rect x="1201.2" y="813.4" width="12.7" height="12.7" fill="#008a45" stroke="#000" stroke-width="1.5"/>
<rect x="1184.4" y="820.8" width="12.7" height="12.7" fill="#008a45" stroke="#000" stroke-width="1.5"/>
<rect x="1195.9" y="823.2" width="12.7" height="12.7" fill="#008a45" stroke="#000" stroke-width="1.5"/>
<rect x="1189.7" y="810.1" width="12.7" height="12.7" fill="#008a45" stroke="#000" stroke-width="1.5"/>
<circle cx="1270.6" cy="713.6" r="6.3" fill="#f3932f" stroke="#000" stroke-width="1.5"/>
<circle cx="1263.1" cy="704.6" r="6.3" fill="#f3932f" stroke="#000" stroke-width="1.5"/>
<circle cx="1278.8" cy="709.3" r="6.3" fill="#f3932f" stroke="#000" stroke-width="1.5"/>
<circle cx="1263.1" cy="724.6" r="6.3" fill="#f3932f" stroke="#000" stroke-width="1.5"/>
<circle cx="1278.8" cy="724.6" r="6.3" fill="#f3932f" stroke="#000" stroke-width="1.5"/>
<circle cx="1306.4" cy="860" r="6.3" fill="#f3932f" stroke="#000" stroke-width="1.5"/>
<circle cx="1310.3" cy="860" r="6.3" fill="#f3932f" stroke="#000" stroke-width="1.5"/>
<circle cx="1318.2" cy="860" r="6.3" fill="#f3932f" stroke="#000" stroke-width="1.5"/>
<circle cx="1322.2" cy="860" r="6.3" fill="#f3932f" stroke="#000" stroke-width="1.5"/>
<circle cx="1314.3" cy="860" r="6.3" fill="#f3932f" stroke="#000" stroke-width="1.5"/>
<rect x="1376.5" y="660.8" width="12.7" height="12.7" fill="#008a45" stroke="#000" stroke-width="1.5"/>
<rect x="1384.7" y="662.4" width="12.7" height="12.7" fill="#008a45" stroke="#000" stroke-width="1.5"/>
<rect x="1372.6" y="664.8" width="12.7" height="12.7" fill="#008a45" stroke="#000" stroke-width="1.5"/>
<rect x="1388.2" y="672.1" width="12.7" height="12.7" fill="#008a45" stroke="#000" stroke-width="1.5"/>
<rect x="1372.6" y="664.8" width="12.7" height="12.7" fill="#008a45" stroke="#000" stroke-width="1.5"/>
<rect x="1415.9" y="853.8" width="12.7" height="12.7" fill="#008a45" stroke="#000" stroke-width="1.5"/>
<rect x="1431.6" y="852.9" width="12.7" height="12.7" fill="#008a45" stroke="#000" stroke-width="1.5"/>
<rect x="1421.4" y="849.9" width="12.7" height="12.7" fill="#008a45" stroke="#000" stroke-width="1.5"/>
<rect x="1421.4" y="849.9" width="12.7" height="12.7" fill="#008a45" stroke="#000" stroke-width="1.5"/>
<rect x="1421.4" y="849.9" width="12.7" height="12.7" fill="#008a45" stroke="#000" stroke-width="1.5"/>
<circle cx="806.7" cy="610.8" r="6.3" fill="#f3932f" stroke="#000" stroke-width="1.4"/>
<text x="836.3" y="620.1" font-size="24.8" transform="translate(0 620.1) scale(1 1.04) translate(0 -620.1)">ShCtrl</text>
<rect x="800.4" y="644.5" width="12.6" height="12.6" fill="#008a45" stroke="#000" stroke-width="1.4"/>
<text x="836.3" y="660.1" font-size="24.8" transform="translate(0 660.1) scale(1 1.04) translate(0 -660.1)">Sh<tspan font-style="italic">Opa1</tspan></text>
<polyline points="1271.3,626.2 1271.3,609.1 1387.1,609.1 1387.1,626.2" fill="none" stroke="#000" stroke-width="3" stroke-linejoin="miter" stroke-linecap="round"/>
<text x="1327.3" y="590.7" font-size="24" text-anchor="middle" transform="translate(0 590.7) scale(1 1.04) translate(0 -590.7)">&lt;0.0001</text>
<line x1="784.7" y1="943.6" x2="982.7" y2="943.6" stroke="#000" stroke-width="3.3" stroke-linecap="butt"/>
<line x1="1020" y1="943.6" x2="1218.9" y2="943.6" stroke="#000" stroke-width="3.3" stroke-linecap="butt"/>
<line x1="1241.9" y1="943.6" x2="1440.8" y2="943.6" stroke="#000" stroke-width="3.3" stroke-linecap="butt"/>
<text x="886.8" y="977.3" font-size="24.8" text-anchor="middle" transform="translate(0 977.3) scale(1 1.04) translate(0 -977.3)">Basal (no Gluc)</text>
<text x="1115.8" y="977.3" font-size="24.8" text-anchor="middle" transform="translate(0 977.3) scale(1 1.04) translate(0 -977.3)">Basal + Gluc</text>
<text x="1339.5" y="977.3" font-size="24.8" text-anchor="middle" transform="translate(0 977.3) scale(1 1.04) translate(0 -977.3)">Basal + Gluc + Oligo</text>
<text x="814.1" y="893" font-size="25.5" text-anchor="end" transform="rotate(-45 814.1 893) translate(814.1 893) scale(1 1.04) translate(-814.1 -893)">Glyc</text>
<text x="857.7" y="893" font-size="25.5" text-anchor="end" transform="rotate(-45 857.7 893) translate(857.7 893) scale(1 1.04) translate(-857.7 -893)">OX</text>
<text x="930.5" y="893" font-size="25.5" text-anchor="end" transform="rotate(-45 930.5 893) translate(930.5 893) scale(1 1.04) translate(-930.5 -893)">Glyc</text>
<text x="973.6" y="893" font-size="25.5" text-anchor="end" transform="rotate(-45 973.6 893) translate(973.6 893) scale(1 1.04) translate(-973.6 -893)">OX</text>
<text x="1045.8" y="893" font-size="25.5" text-anchor="end" transform="rotate(-45 1045.8 893) translate(1045.8 893) scale(1 1.04) translate(-1045.8 -893)">Glyc</text>
<text x="1089.3" y="893" font-size="25.5" text-anchor="end" transform="rotate(-45 1089.3 893) translate(1089.3 893) scale(1 1.04) translate(-1089.3 -893)">OX</text>
<text x="1161.6" y="893" font-size="25.5" text-anchor="end" transform="rotate(-45 1161.6 893) translate(1161.6 893) scale(1 1.04) translate(-1161.6 -893)">Glyc</text>
<text x="1205.2" y="893" font-size="25.5" text-anchor="end" transform="rotate(-45 1205.2 893) translate(1205.2 893) scale(1 1.04) translate(-1205.2 -893)">OX</text>
<text x="1277.5" y="893" font-size="25.5" text-anchor="end" transform="rotate(-45 1277.5 893) translate(1277.5 893) scale(1 1.04) translate(-1277.5 -893)">Glyc</text>
<text x="1320.8" y="893" font-size="25.5" text-anchor="end" transform="rotate(-45 1320.8 893) translate(1320.8 893) scale(1 1.04) translate(-1320.8 -893)">OX</text>
<text x="1393.2" y="893" font-size="25.5" text-anchor="end" transform="rotate(-45 1393.2 893) translate(1393.2 893) scale(1 1.04) translate(-1393.2 -893)">Glyc</text>
<text x="1436.2" y="893" font-size="25.5" text-anchor="end" transform="rotate(-45 1436.2 893) translate(1436.2 893) scale(1 1.04) translate(-1436.2 -893)">OX</text>
<text x="701.5" y="969.5" font-size="28.6" transform="rotate(-90 701.5 969.5) translate(701.5 969.5) scale(1 1.04) translate(-701.5 -969.5)">J<tspan dy="9.3">ATP</tspan><tspan dy="-4">(pmol ATP/min/µg protein)</tspan></text>
<line x1="156" y1="1585.3" x2="156" y2="1983.5" stroke="#000" stroke-width="4" stroke-linecap="butt"/>
<line x1="142.9" y1="1981.5" x2="550" y2="1981.5" stroke="#000" stroke-width="4.5" stroke-linecap="butt"/>
<line x1="142.9" y1="1981.5" x2="156" y2="1981.5" stroke="#000" stroke-width="4" stroke-linecap="butt"/>
<text x="138.6" y="1991.6" font-size="28.5" text-anchor="end" transform="translate(0 1991.6) scale(1 1.04) translate(0 -1991.6)">0</text>
<line x1="142.9" y1="1883" x2="156" y2="1883" stroke="#000" stroke-width="4" stroke-linecap="butt"/>
<text x="138.6" y="1893" font-size="28.5" text-anchor="end" transform="translate(0 1893) scale(1 1.04) translate(0 -1893)">100</text>
<line x1="142.9" y1="1784.4" x2="156" y2="1784.4" stroke="#000" stroke-width="4" stroke-linecap="butt"/>
<text x="138.6" y="1794.5" font-size="28.5" text-anchor="end" transform="translate(0 1794.5) scale(1 1.04) translate(0 -1794.5)">200</text>
<line x1="142.9" y1="1685.8" x2="156" y2="1685.8" stroke="#000" stroke-width="4" stroke-linecap="butt"/>
<text x="138.6" y="1695.9" font-size="28.5" text-anchor="end" transform="translate(0 1695.9) scale(1 1.04) translate(0 -1695.9)">300</text>
<line x1="142.9" y1="1587.3" x2="156" y2="1587.3" stroke="#000" stroke-width="4" stroke-linecap="butt"/>
<text x="138.6" y="1597.4" font-size="28.5" text-anchor="end" transform="translate(0 1597.4) scale(1 1.04) translate(0 -1597.4)">400</text>
<line x1="193.6" y1="1981.5" x2="193.6" y2="1995.8" stroke="#000" stroke-width="4.5" stroke-linecap="butt"/>
<rect x="176.7" y="1885.9" width="33.8" height="95.6" fill="#fff" stroke="#000" stroke-width="3.8"/>
<line x1="249.7" y1="1981.5" x2="249.7" y2="1995.8" stroke="#000" stroke-width="4.5" stroke-linecap="butt"/>
<rect x="232.8" y="1741" width="33.8" height="240.5" fill="#fff" stroke="#000" stroke-width="3.8"/>
<line x1="305.9" y1="1981.5" x2="305.9" y2="1995.8" stroke="#000" stroke-width="4.5" stroke-linecap="butt"/>
<rect x="289" y="1787" width="33.8" height="194.5" fill="#fff" stroke="#000" stroke-width="3.8"/>
<line x1="400.2" y1="1981.5" x2="400.2" y2="1995.8" stroke="#000" stroke-width="4.5" stroke-linecap="butt"/>
<rect x="383.3" y="1874.8" width="33.8" height="106.7" fill="#fff" stroke="#000" stroke-width="3.8"/>
<line x1="456.1" y1="1981.5" x2="456.1" y2="1995.8" stroke="#000" stroke-width="4.5" stroke-linecap="butt"/>
<rect x="439.2" y="1721.5" width="33.8" height="260" fill="#fff" stroke="#000" stroke-width="3.8"/>
<line x1="512.3" y1="1981.5" x2="512.3" y2="1995.8" stroke="#000" stroke-width="4.5" stroke-linecap="butt"/>
<rect x="495.4" y="1780.4" width="33.8" height="201.1" fill="#fff" stroke="#000" stroke-width="3.8"/>
<line x1="193.6" y1="1868.4" x2="193.6" y2="1898.6" stroke="#000" stroke-width="3.2" stroke-linecap="butt"/>
<line x1="184.6" y1="1868.4" x2="202.6" y2="1868.4" stroke="#000" stroke-width="3.2" stroke-linecap="round"/>
<line x1="184.6" y1="1898.6" x2="202.6" y2="1898.6" stroke="#000" stroke-width="3.2" stroke-linecap="round"/>
<line x1="249.7" y1="1700.4" x2="249.7" y2="1775.8" stroke="#000" stroke-width="3.2" stroke-linecap="butt"/>
<line x1="240.7" y1="1700.4" x2="258.7" y2="1700.4" stroke="#000" stroke-width="3.2" stroke-linecap="round"/>
<line x1="240.7" y1="1775.8" x2="258.7" y2="1775.8" stroke="#000" stroke-width="3.2" stroke-linecap="round"/>
<line x1="305.9" y1="1755" x2="305.9" y2="1814" stroke="#000" stroke-width="3.2" stroke-linecap="butt"/>
<line x1="296.9" y1="1755" x2="314.9" y2="1755" stroke="#000" stroke-width="3.2" stroke-linecap="round"/>
<line x1="296.9" y1="1814" x2="314.9" y2="1814" stroke="#000" stroke-width="3.2" stroke-linecap="round"/>
<line x1="400.2" y1="1852" x2="400.2" y2="1890.3" stroke="#000" stroke-width="3.2" stroke-linecap="butt"/>
<line x1="391.2" y1="1852" x2="409.2" y2="1852" stroke="#000" stroke-width="3.2" stroke-linecap="round"/>
<line x1="391.2" y1="1890.3" x2="409.2" y2="1890.3" stroke="#000" stroke-width="3.2" stroke-linecap="round"/>
<line x1="456.1" y1="1683.1" x2="456.1" y2="1754.2" stroke="#000" stroke-width="3.2" stroke-linecap="butt"/>
<line x1="447.1" y1="1683.1" x2="465.1" y2="1683.1" stroke="#000" stroke-width="3.2" stroke-linecap="round"/>
<line x1="447.1" y1="1754.2" x2="465.1" y2="1754.2" stroke="#000" stroke-width="3.2" stroke-linecap="round"/>
<line x1="512.3" y1="1752.7" x2="512.3" y2="1800.5" stroke="#000" stroke-width="3.2" stroke-linecap="butt"/>
<line x1="503.3" y1="1752.7" x2="521.3" y2="1752.7" stroke="#000" stroke-width="3.2" stroke-linecap="round"/>
<line x1="503.3" y1="1800.5" x2="521.3" y2="1800.5" stroke="#000" stroke-width="3.2" stroke-linecap="round"/>
<circle cx="181.7" cy="1862.6" r="6.6" fill="#f3932f" stroke="#000" stroke-width="1.5"/>
<circle cx="205.6" cy="1875" r="6.6" fill="#f3932f" stroke="#000" stroke-width="1.5"/>
<circle cx="193.2" cy="1912.4" r="6.6" fill="#f3932f" stroke="#000" stroke-width="1.5"/>
<circle cx="249.6" cy="1684.6" r="6.6" fill="#f3932f" stroke="#000" stroke-width="1.5"/>
<circle cx="249.6" cy="1718.2" r="6.6" fill="#f3932f" stroke="#000" stroke-width="1.5"/>
<circle cx="249.6" cy="1811.2" r="6.6" fill="#f3932f" stroke="#000" stroke-width="1.5"/>
<circle cx="306" cy="1744.1" r="6.6" fill="#f3932f" stroke="#000" stroke-width="1.5"/>
<circle cx="306" cy="1766.6" r="6.6" fill="#f3932f" stroke="#000" stroke-width="1.5"/>
<circle cx="306" cy="1841.9" r="6.6" fill="#f3932f" stroke="#000" stroke-width="1.5"/>
<rect x="381.4" y="1844.5" width="13.2" height="13.2" fill="#008a45" stroke="#000" stroke-width="1.5"/>
<rect x="405.3" y="1846.8" width="13.2" height="13.2" fill="#008a45" stroke="#000" stroke-width="1.5"/>
<rect x="393.2" y="1902.9" width="13.2" height="13.2" fill="#008a45" stroke="#000" stroke-width="1.5"/>
<rect x="449.3" y="1669.3" width="13.2" height="13.2" fill="#008a45" stroke="#000" stroke-width="1.5"/>
<rect x="449.3" y="1683.7" width="13.2" height="13.2" fill="#008a45" stroke="#000" stroke-width="1.5"/>
<rect x="449.3" y="1782.7" width="13.2" height="13.2" fill="#008a45" stroke="#000" stroke-width="1.5"/>
<rect x="506" y="1736.7" width="13.2" height="13.2" fill="#008a45" stroke="#000" stroke-width="1.5"/>
<rect x="506" y="1757.7" width="13.2" height="13.2" fill="#008a45" stroke="#000" stroke-width="1.5"/>
<rect x="506" y="1816.6" width="13.2" height="13.2" fill="#008a45" stroke="#000" stroke-width="1.5"/>
<line x1="181.1" y1="1626.7" x2="533.3" y2="1626.7" stroke="#000" stroke-width="4" stroke-linecap="round"/>
<text x="357.2" y="1596" font-size="31" text-anchor="middle" transform="translate(0 1596) scale(1 1.04) translate(0 -1596)">ns</text>
<circle cx="580.4" cy="1606.3" r="6.3" fill="#f3932f" stroke="#000" stroke-width="1.4"/>
<text x="611.2" y="1615.5" font-size="24.5" transform="translate(0 1615.5) scale(1 1.04) translate(0 -1615.5)">ShCtrl</text>
<rect x="573.9" y="1640" width="13.1" height="13.1" fill="#008a45" stroke="#000" stroke-width="1.4"/>
<text x="611.2" y="1655.9" font-size="24.5" transform="translate(0 1655.9) scale(1 1.04) translate(0 -1655.9)">Sh<tspan font-style="italic">Opa1</tspan></text>
<text x="199.9" y="2016" font-size="29.5" text-anchor="end" transform="rotate(-45 199.9 2016) translate(199.9 2016) scale(1 1.04) translate(-199.9 -2016)">Glucose</text>
<text x="256" y="2016" font-size="29.5" text-anchor="end" transform="rotate(-45 256 2016) translate(256 2016) scale(1 1.04) translate(-256 -2016)">Rot/Myx</text>
<text x="312.2" y="2016" font-size="29.5" text-anchor="end" transform="rotate(-45 312.2 2016) translate(312.2 2016) scale(1 1.04) translate(-312.2 -2016)">Mon/FCCP</text>
<text x="406.5" y="2016" font-size="29.5" text-anchor="end" transform="rotate(-45 406.5 2016) translate(406.5 2016) scale(1 1.04) translate(-406.5 -2016)">Glucose</text>
<text x="462.4" y="2016" font-size="29.5" text-anchor="end" transform="rotate(-45 462.4 2016) translate(462.4 2016) scale(1 1.04) translate(-462.4 -2016)">Rot/Myx</text>
<text x="518.6" y="2016" font-size="29.5" text-anchor="end" transform="rotate(-45 518.6 2016) translate(518.6 2016) scale(1 1.04) translate(-518.6 -2016)">Mon/FCCP</text>
<text x="74.3" y="1786.2" font-size="32.3" text-anchor="middle" transform="rotate(-90 74.3 1786.2) translate(74.3 1786.2) scale(1 1.04) translate(-74.3 -1786.2)">PPR (mpH<tspan font-size="21" dy="5">/</tspan><tspan dy="-5">min/µg protein)</tspan></text>
</g>
<text x="2" y="37" font-size="52" font-weight="bold" fill="#231f20" transform="translate(0 37) scale(1 1.04) translate(0 -37)">A</text>
<text x="670" y="37" font-size="52" font-weight="bold" fill="#231f20" transform="translate(0 37) scale(1 1.04) translate(0 -37)">B</text>
<text x="2" y="547" font-size="52" font-weight="bold" fill="#231f20" transform="translate(0 547) scale(1 1.04) translate(0 -547)">C</text>
<text x="659" y="547.5" font-size="52" font-weight="bold" fill="#231f20" transform="translate(0 547.5) scale(1 1.04) translate(0 -547.5)">D</text>
<text x="2" y="1034" font-size="52" font-weight="bold" fill="#231f20" transform="translate(0 1034) scale(1 1.04) translate(0 -1034)">E</text>
<text x="673.5" y="1034" font-size="52" font-weight="bold" fill="#231f20" transform="translate(0 1034) scale(1 1.04) translate(0 -1034)">F</text>
<text x="-1" y="1574" font-size="52" font-weight="bold" fill="#231f20" transform="translate(0 1574) scale(1 1.04) translate(0 -1574)">G</text>
</svg></body></html>
